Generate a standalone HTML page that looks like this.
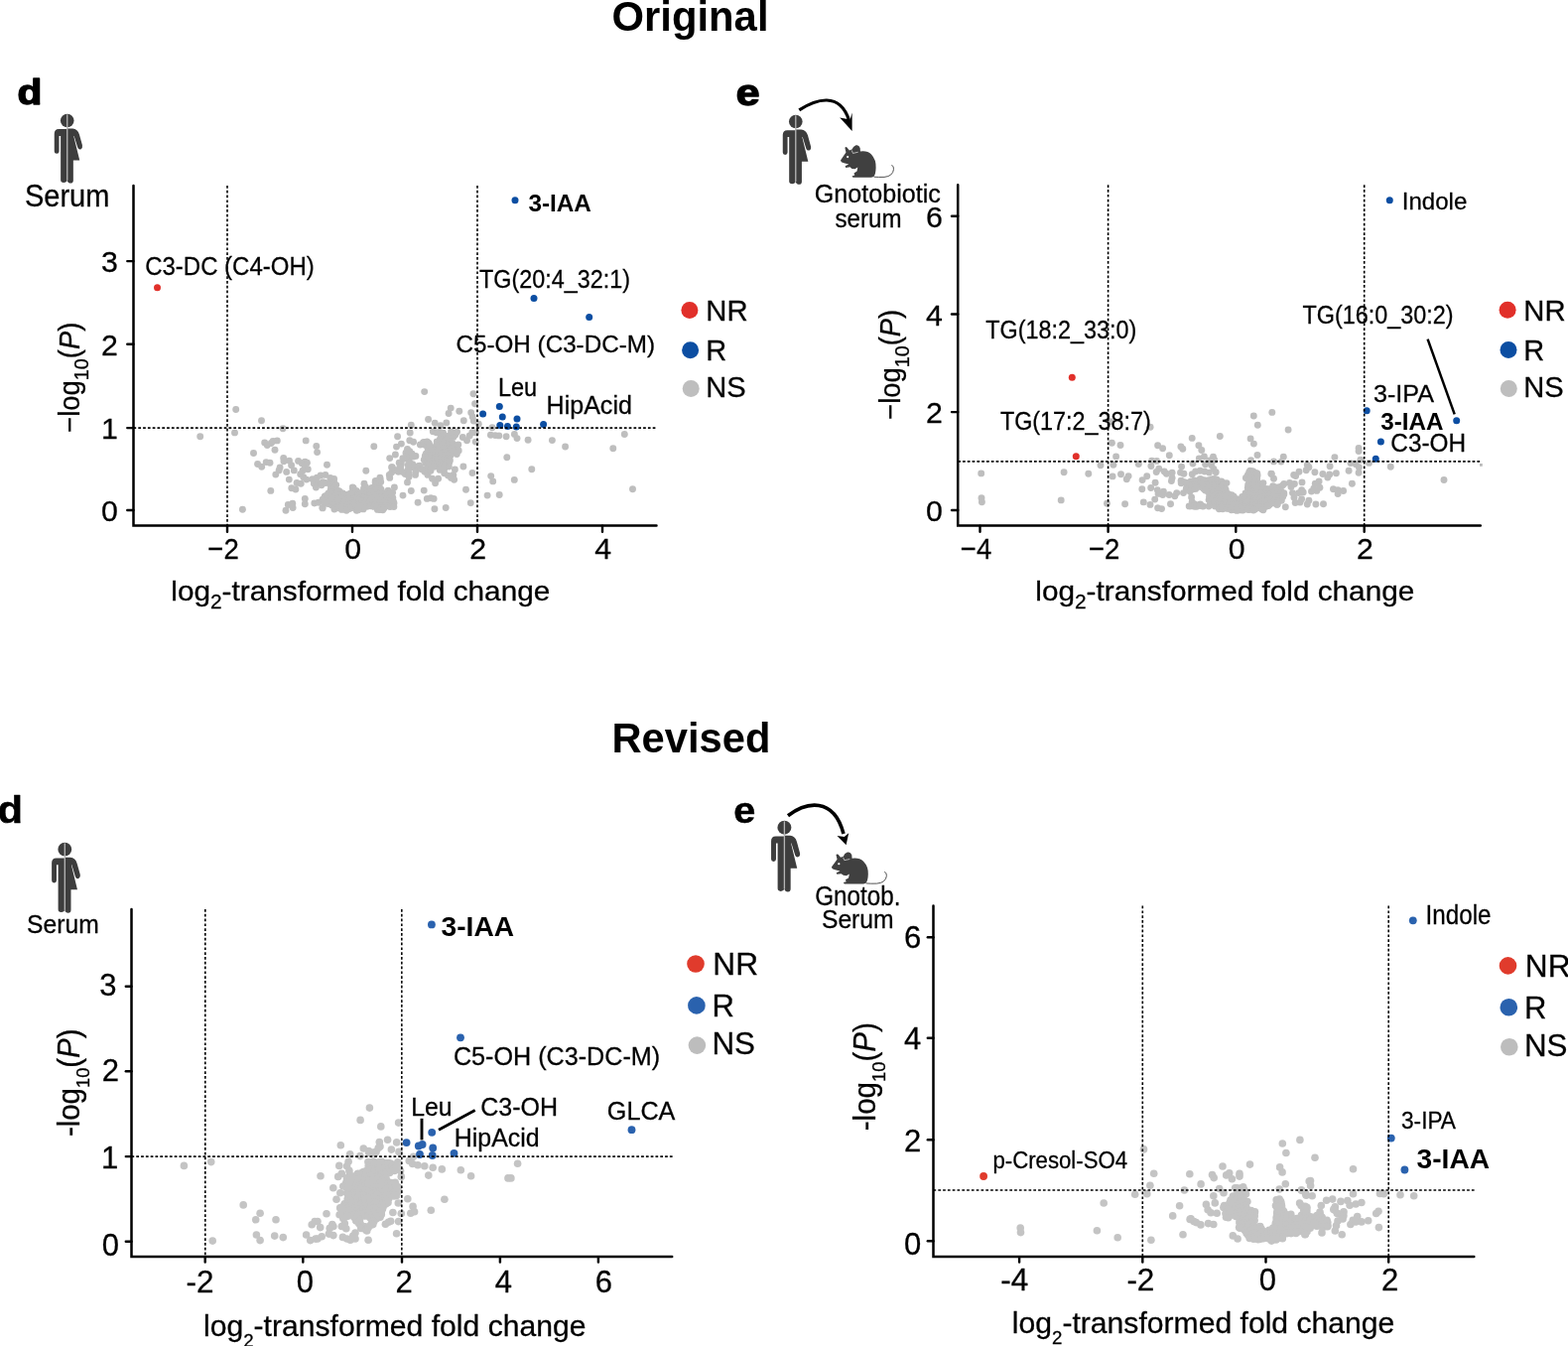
<!DOCTYPE html>
<html lang="en"><head><meta charset="utf-8"><title>Volcano plots: Original vs Revised</title>
<style>
html,body{margin:0;padding:0;background:#fff;}
body{width:1580px;height:1356px;overflow:hidden;}
svg{display:block;font-family:"Liberation Sans", sans-serif;fill:#000;}
.t{stroke:#000;stroke-width:.28px;}
</style></head><body>
<svg width="1580" height="1356" viewBox="0 0 1580 1356">
<rect width="1580" height="1356" fill="#fff"/>
<text x="616.5" y="31" font-size="43" font-weight="bold" textLength="158" lengthAdjust="spacingAndGlyphs">Original</text>
<text x="616.5" y="758" font-size="43" font-weight="bold" textLength="160" lengthAdjust="spacingAndGlyphs">Revised</text>
<text x="17.4" y="105" font-size="35.8" font-weight="bold" textLength="24.8" lengthAdjust="spacingAndGlyphs" stroke="#000" stroke-width="1.4" stroke-linejoin="round">d</text>
<g transform="translate(67.74,114.8) scale(1.0000)" fill="#3d3d3d">
<circle cx="0" cy="6.7" r="6.8"/>
<path d="M0 15.3 H-8.5 Q-13 15.3 -13 20 V37.6 Q-13 40 -10.6 40 Q-8.2 40 -8.2 37.6 V22.1 H-6.6 V66.5 Q-6.6 69.2 -3.6 69.2 Q-0.6 69.2 0 66.5 Z"/>
<path d="M0 14.6 H5.5 Q10.5 14.8 12.2 20.7 L15.2 31.5 Q15.8 34.5 13.6 35.6 Q11.4 36.2 10.5 33.8 L6.9 22.1 H6.5 L12.5 46.8 H6.1 V67 Q6.1 69.8 3.4 69.8 Q0.6 69.8 0 67 Z"/>
<rect x="-0.65" y="0.5" width="1.3" height="66.5" fill="#b4b4b4"/>
</g>
<text x="24.9" y="208.3" font-size="31" textLength="85.5" lengthAdjust="spacingAndGlyphs" class="t">Serum</text>
<g fill="#bebebe"><circle cx="201.7" cy="439.7" r="3.45"/><circle cx="237.7" cy="412.5" r="3.45"/><circle cx="236.5" cy="435.9" r="3.45"/><circle cx="263.5" cy="423.7" r="3.45"/><circle cx="285.1" cy="431.8" r="3.45"/><circle cx="308.2" cy="443.9" r="3.45"/><circle cx="318.8" cy="449.5" r="3.45"/><circle cx="319.6" cy="455.6" r="3.45"/><circle cx="376.8" cy="449.7" r="3.45"/><circle cx="255.5" cy="456.5" r="3.45"/><circle cx="277.0" cy="453.3" r="3.45"/><circle cx="266.7" cy="445.9" r="3.45"/><circle cx="269.3" cy="448.5" r="3.45"/><circle cx="273.2" cy="446.5" r="3.45"/><circle cx="275.1" cy="444.4" r="3.45"/><circle cx="279.3" cy="443.9" r="3.45"/><circle cx="259.6" cy="467.5" r="3.45"/><circle cx="263.7" cy="470.2" r="3.45"/><circle cx="268.2" cy="465.6" r="3.45"/><circle cx="272.0" cy="466.3" r="3.45"/><circle cx="285.7" cy="461.4" r="3.45"/><circle cx="286.0" cy="464.7" r="3.45"/><circle cx="282.1" cy="471.0" r="3.45"/><circle cx="281.1" cy="473.9" r="3.45"/><circle cx="277.8" cy="478.1" r="3.45"/><circle cx="291.5" cy="464.1" r="3.45"/><circle cx="293.6" cy="468.7" r="3.45"/><circle cx="288.7" cy="475.4" r="3.45"/><circle cx="296.3" cy="473.9" r="3.45"/><circle cx="300.6" cy="464.4" r="3.45"/><circle cx="304.2" cy="466.7" r="3.45"/><circle cx="307.3" cy="465.2" r="3.45"/><circle cx="309.4" cy="466.3" r="3.45"/><circle cx="307.3" cy="470.5" r="3.45"/><circle cx="310.3" cy="472.8" r="3.45"/><circle cx="305.0" cy="474.3" r="3.45"/><circle cx="302.7" cy="477.8" r="3.45"/><circle cx="305.8" cy="480.8" r="3.45"/><circle cx="329.5" cy="468.2" r="3.45"/><circle cx="368.8" cy="474.3" r="3.45"/><circle cx="291.3" cy="483.1" r="3.45"/><circle cx="299.1" cy="486.5" r="3.45"/><circle cx="303.2" cy="487.2" r="3.45"/><circle cx="308.9" cy="483.1" r="3.45"/><circle cx="293.8" cy="491.8" r="3.45"/><circle cx="297.9" cy="493.0" r="3.45"/><circle cx="272.8" cy="494.4" r="3.45"/><circle cx="244.4" cy="513.3" r="3.45"/><circle cx="288.0" cy="514.3" r="3.45"/><circle cx="290.3" cy="508.5" r="3.45"/><circle cx="294.8" cy="507.3" r="3.45"/><circle cx="295.1" cy="511.5" r="3.45"/><circle cx="307.3" cy="502.4" r="3.45"/><circle cx="307.3" cy="507.7" r="3.45"/><circle cx="316.8" cy="507.0" r="3.45"/><circle cx="320.9" cy="506.2" r="3.45"/><circle cx="324.9" cy="511.5" r="3.45"/><circle cx="314.9" cy="482.7" r="3.45"/><circle cx="319.4" cy="481.1" r="3.45"/><circle cx="323.1" cy="479.0" r="3.45"/><circle cx="327.9" cy="478.4" r="3.45"/><circle cx="332.8" cy="481.4" r="3.45"/><circle cx="336.6" cy="482.4" r="3.45"/><circle cx="316.4" cy="487.2" r="3.45"/><circle cx="320.9" cy="486.6" r="3.45"/><circle cx="325.5" cy="485.7" r="3.45"/><circle cx="318.4" cy="491.0" r="3.45"/><circle cx="324.0" cy="488.7" r="3.45"/><circle cx="328.2" cy="486.5" r="3.45"/><circle cx="397.4" cy="491.0" r="3.45"/><circle cx="382.9" cy="481.1" r="3.45"/><circle cx="378.4" cy="484.5" r="3.45"/><circle cx="381.4" cy="487.2" r="3.45"/><circle cx="367.0" cy="487.2" r="3.45"/><circle cx="355.3" cy="491.0" r="3.45"/><circle cx="359.4" cy="494.8" r="3.45"/><circle cx="383.1" cy="482.6" r="3.45"/><circle cx="334.8" cy="484.7" r="3.45"/><circle cx="336.3" cy="484.9" r="3.45"/><circle cx="378.2" cy="485.1" r="3.45"/><circle cx="381.6" cy="484.3" r="3.45"/><circle cx="383.7" cy="485.6" r="3.45"/><circle cx="333.4" cy="486.5" r="3.45"/><circle cx="335.7" cy="487.1" r="3.45"/><circle cx="337.0" cy="487.2" r="3.45"/><circle cx="378.2" cy="486.6" r="3.45"/><circle cx="379.7" cy="487.0" r="3.45"/><circle cx="382.0" cy="486.3" r="3.45"/><circle cx="333.0" cy="488.5" r="3.45"/><circle cx="337.3" cy="488.7" r="3.45"/><circle cx="338.7" cy="488.6" r="3.45"/><circle cx="367.6" cy="490.4" r="3.45"/><circle cx="378.6" cy="489.2" r="3.45"/><circle cx="382.4" cy="490.6" r="3.45"/><circle cx="335.4" cy="491.9" r="3.45"/><circle cx="337.7" cy="491.2" r="3.45"/><circle cx="356.2" cy="491.8" r="3.45"/><circle cx="366.5" cy="492.1" r="3.45"/><circle cx="368.6" cy="490.9" r="3.45"/><circle cx="374.7" cy="491.4" r="3.45"/><circle cx="376.8" cy="492.5" r="3.45"/><circle cx="380.0" cy="492.5" r="3.45"/><circle cx="382.1" cy="492.7" r="3.45"/><circle cx="333.2" cy="493.3" r="3.45"/><circle cx="335.6" cy="494.3" r="3.45"/><circle cx="339.8" cy="494.3" r="3.45"/><circle cx="341.7" cy="494.8" r="3.45"/><circle cx="355.5" cy="494.3" r="3.45"/><circle cx="358.6" cy="494.6" r="3.45"/><circle cx="367.2" cy="494.8" r="3.45"/><circle cx="370.1" cy="494.5" r="3.45"/><circle cx="373.0" cy="494.2" r="3.45"/><circle cx="376.1" cy="494.7" r="3.45"/><circle cx="378.0" cy="494.6" r="3.45"/><circle cx="382.3" cy="494.7" r="3.45"/><circle cx="384.1" cy="493.3" r="3.45"/><circle cx="391.1" cy="494.3" r="3.45"/><circle cx="330.7" cy="497.1" r="3.45"/><circle cx="333.0" cy="495.5" r="3.45"/><circle cx="334.2" cy="497.4" r="3.45"/><circle cx="338.6" cy="496.4" r="3.45"/><circle cx="339.7" cy="496.3" r="3.45"/><circle cx="342.6" cy="495.9" r="3.45"/><circle cx="345.3" cy="496.9" r="3.45"/><circle cx="353.0" cy="497.2" r="3.45"/><circle cx="356.6" cy="495.4" r="3.45"/><circle cx="358.7" cy="497.3" r="3.45"/><circle cx="361.2" cy="496.8" r="3.45"/><circle cx="366.0" cy="495.6" r="3.45"/><circle cx="370.3" cy="496.2" r="3.45"/><circle cx="373.0" cy="495.5" r="3.45"/><circle cx="374.5" cy="496.0" r="3.45"/><circle cx="376.9" cy="497.4" r="3.45"/><circle cx="380.2" cy="496.1" r="3.45"/><circle cx="383.3" cy="495.9" r="3.45"/><circle cx="385.7" cy="497.2" r="3.45"/><circle cx="387.4" cy="497.0" r="3.45"/><circle cx="390.5" cy="496.8" r="3.45"/><circle cx="393.2" cy="496.8" r="3.45"/><circle cx="395.6" cy="496.3" r="3.45"/><circle cx="327.8" cy="499.7" r="3.45"/><circle cx="330.6" cy="499.1" r="3.45"/><circle cx="334.8" cy="498.2" r="3.45"/><circle cx="336.5" cy="499.5" r="3.45"/><circle cx="339.7" cy="499.0" r="3.45"/><circle cx="341.9" cy="499.1" r="3.45"/><circle cx="344.7" cy="497.9" r="3.45"/><circle cx="346.2" cy="497.9" r="3.45"/><circle cx="350.7" cy="498.1" r="3.45"/><circle cx="352.3" cy="498.1" r="3.45"/><circle cx="354.8" cy="499.5" r="3.45"/><circle cx="356.9" cy="498.9" r="3.45"/><circle cx="360.4" cy="499.4" r="3.45"/><circle cx="363.1" cy="498.5" r="3.45"/><circle cx="365.3" cy="498.6" r="3.45"/><circle cx="367.8" cy="499.2" r="3.45"/><circle cx="370.0" cy="499.5" r="3.45"/><circle cx="372.8" cy="499.2" r="3.45"/><circle cx="376.8" cy="498.2" r="3.45"/><circle cx="378.9" cy="499.1" r="3.45"/><circle cx="381.8" cy="499.5" r="3.45"/><circle cx="384.3" cy="499.6" r="3.45"/><circle cx="385.9" cy="499.4" r="3.45"/><circle cx="388.4" cy="498.7" r="3.45"/><circle cx="391.7" cy="499.5" r="3.45"/><circle cx="394.5" cy="499.0" r="3.45"/><circle cx="327.1" cy="500.4" r="3.45"/><circle cx="329.9" cy="500.5" r="3.45"/><circle cx="332.7" cy="501.6" r="3.45"/><circle cx="334.8" cy="500.1" r="3.45"/><circle cx="337.3" cy="500.0" r="3.45"/><circle cx="340.4" cy="501.8" r="3.45"/><circle cx="342.8" cy="501.9" r="3.45"/><circle cx="346.2" cy="499.9" r="3.45"/><circle cx="347.8" cy="500.7" r="3.45"/><circle cx="351.4" cy="501.9" r="3.45"/><circle cx="352.7" cy="501.5" r="3.45"/><circle cx="356.4" cy="500.3" r="3.45"/><circle cx="359.7" cy="500.9" r="3.45"/><circle cx="360.7" cy="501.1" r="3.45"/><circle cx="364.1" cy="501.5" r="3.45"/><circle cx="366.1" cy="501.2" r="3.45"/><circle cx="369.0" cy="501.9" r="3.45"/><circle cx="373.0" cy="501.8" r="3.45"/><circle cx="375.0" cy="501.5" r="3.45"/><circle cx="378.4" cy="501.2" r="3.45"/><circle cx="379.4" cy="501.5" r="3.45"/><circle cx="383.7" cy="500.6" r="3.45"/><circle cx="385.2" cy="500.7" r="3.45"/><circle cx="387.7" cy="501.0" r="3.45"/><circle cx="390.0" cy="501.7" r="3.45"/><circle cx="392.9" cy="501.8" r="3.45"/><circle cx="395.8" cy="501.5" r="3.45"/><circle cx="325.1" cy="503.1" r="3.45"/><circle cx="329.6" cy="502.7" r="3.45"/><circle cx="330.8" cy="503.2" r="3.45"/><circle cx="333.6" cy="503.4" r="3.45"/><circle cx="336.9" cy="502.9" r="3.45"/><circle cx="339.0" cy="504.3" r="3.45"/><circle cx="341.5" cy="502.8" r="3.45"/><circle cx="345.5" cy="504.2" r="3.45"/><circle cx="347.9" cy="503.2" r="3.45"/><circle cx="350.2" cy="503.8" r="3.45"/><circle cx="352.8" cy="503.7" r="3.45"/><circle cx="354.9" cy="503.1" r="3.45"/><circle cx="358.3" cy="503.6" r="3.45"/><circle cx="359.8" cy="503.8" r="3.45"/><circle cx="363.0" cy="504.0" r="3.45"/><circle cx="366.4" cy="503.8" r="3.45"/><circle cx="367.7" cy="503.5" r="3.45"/><circle cx="370.5" cy="503.1" r="3.45"/><circle cx="373.6" cy="503.0" r="3.45"/><circle cx="375.1" cy="503.0" r="3.45"/><circle cx="377.7" cy="503.4" r="3.45"/><circle cx="380.9" cy="502.5" r="3.45"/><circle cx="383.0" cy="504.0" r="3.45"/><circle cx="385.8" cy="502.5" r="3.45"/><circle cx="390.2" cy="502.6" r="3.45"/><circle cx="392.7" cy="504.1" r="3.45"/><circle cx="395.3" cy="502.4" r="3.45"/><circle cx="327.0" cy="505.8" r="3.45"/><circle cx="330.9" cy="505.5" r="3.45"/><circle cx="333.2" cy="505.8" r="3.45"/><circle cx="335.9" cy="505.4" r="3.45"/><circle cx="337.5" cy="504.7" r="3.45"/><circle cx="341.4" cy="505.5" r="3.45"/><circle cx="342.3" cy="506.2" r="3.45"/><circle cx="344.9" cy="506.2" r="3.45"/><circle cx="349.1" cy="506.0" r="3.45"/><circle cx="352.1" cy="505.0" r="3.45"/><circle cx="354.0" cy="505.0" r="3.45"/><circle cx="357.3" cy="505.1" r="3.45"/><circle cx="359.7" cy="505.2" r="3.45"/><circle cx="361.2" cy="505.1" r="3.45"/><circle cx="365.0" cy="504.9" r="3.45"/><circle cx="367.0" cy="506.2" r="3.45"/><circle cx="369.4" cy="504.6" r="3.45"/><circle cx="371.5" cy="505.9" r="3.45"/><circle cx="374.0" cy="504.6" r="3.45"/><circle cx="378.3" cy="505.1" r="3.45"/><circle cx="380.3" cy="506.5" r="3.45"/><circle cx="382.0" cy="505.8" r="3.45"/><circle cx="385.4" cy="505.2" r="3.45"/><circle cx="387.2" cy="505.9" r="3.45"/><circle cx="391.5" cy="505.2" r="3.45"/><circle cx="393.3" cy="505.3" r="3.45"/><circle cx="396.3" cy="504.9" r="3.45"/><circle cx="327.6" cy="507.1" r="3.45"/><circle cx="330.7" cy="507.5" r="3.45"/><circle cx="334.9" cy="507.0" r="3.45"/><circle cx="337.5" cy="507.1" r="3.45"/><circle cx="338.1" cy="508.8" r="3.45"/><circle cx="341.9" cy="508.0" r="3.45"/><circle cx="344.8" cy="508.2" r="3.45"/><circle cx="347.0" cy="507.3" r="3.45"/><circle cx="350.7" cy="507.5" r="3.45"/><circle cx="351.4" cy="507.6" r="3.45"/><circle cx="355.1" cy="508.0" r="3.45"/><circle cx="357.1" cy="507.3" r="3.45"/><circle cx="359.5" cy="508.6" r="3.45"/><circle cx="363.4" cy="508.0" r="3.45"/><circle cx="366.5" cy="508.2" r="3.45"/><circle cx="367.2" cy="507.5" r="3.45"/><circle cx="371.8" cy="507.0" r="3.45"/><circle cx="373.3" cy="508.5" r="3.45"/><circle cx="375.2" cy="508.7" r="3.45"/><circle cx="379.3" cy="506.8" r="3.45"/><circle cx="382.2" cy="508.0" r="3.45"/><circle cx="384.8" cy="507.5" r="3.45"/><circle cx="386.8" cy="508.1" r="3.45"/><circle cx="389.3" cy="507.7" r="3.45"/><circle cx="393.0" cy="508.2" r="3.45"/><circle cx="395.0" cy="506.8" r="3.45"/><circle cx="397.0" cy="507.0" r="3.45"/><circle cx="334.3" cy="509.1" r="3.45"/><circle cx="336.9" cy="509.4" r="3.45"/><circle cx="340.2" cy="511.0" r="3.45"/><circle cx="343.8" cy="510.3" r="3.45"/><circle cx="345.4" cy="509.9" r="3.45"/><circle cx="348.4" cy="509.9" r="3.45"/><circle cx="350.5" cy="509.2" r="3.45"/><circle cx="353.3" cy="509.7" r="3.45"/><circle cx="356.0" cy="509.2" r="3.45"/><circle cx="359.1" cy="509.7" r="3.45"/><circle cx="361.9" cy="509.6" r="3.45"/><circle cx="365.2" cy="510.1" r="3.45"/><circle cx="367.8" cy="509.4" r="3.45"/><circle cx="369.9" cy="510.3" r="3.45"/><circle cx="373.0" cy="509.5" r="3.45"/><circle cx="374.1" cy="509.9" r="3.45"/><circle cx="376.9" cy="510.4" r="3.45"/><circle cx="380.1" cy="510.3" r="3.45"/><circle cx="381.9" cy="510.1" r="3.45"/><circle cx="385.7" cy="510.3" r="3.45"/><circle cx="387.2" cy="510.7" r="3.45"/><circle cx="391.5" cy="509.8" r="3.45"/><circle cx="393.1" cy="510.5" r="3.45"/><circle cx="396.9" cy="510.5" r="3.45"/><circle cx="336.9" cy="513.1" r="3.45"/><circle cx="338.1" cy="511.9" r="3.45"/><circle cx="341.3" cy="511.8" r="3.45"/><circle cx="344.4" cy="513.4" r="3.45"/><circle cx="347.6" cy="513.0" r="3.45"/><circle cx="349.8" cy="512.7" r="3.45"/><circle cx="352.2" cy="512.5" r="3.45"/><circle cx="354.7" cy="511.5" r="3.45"/><circle cx="358.4" cy="511.5" r="3.45"/><circle cx="360.7" cy="512.4" r="3.45"/><circle cx="363.9" cy="511.5" r="3.45"/><circle cx="366.1" cy="512.9" r="3.45"/><circle cx="380.4" cy="513.4" r="3.45"/><circle cx="383.7" cy="511.8" r="3.45"/><circle cx="387.0" cy="511.9" r="3.45"/><circle cx="349.1" cy="514.3" r="3.45"/><circle cx="359.3" cy="514.3" r="3.45"/><circle cx="361.0" cy="513.7" r="3.45"/><circle cx="382.9" cy="513.6" r="3.45"/><circle cx="385.7" cy="513.8" r="3.45"/><circle cx="325.1" cy="511.9" r="3.45"/><circle cx="427.7" cy="394.6" r="3.45"/><circle cx="477.0" cy="396.8" r="3.45"/><circle cx="478.6" cy="406.7" r="3.45"/><circle cx="469.5" cy="493.3" r="3.45"/><circle cx="474.3" cy="506.7" r="3.45"/><circle cx="449.2" cy="511.5" r="3.45"/><circle cx="437.9" cy="512.7" r="3.45"/><circle cx="421.1" cy="506.2" r="3.45"/><circle cx="414.3" cy="494.5" r="3.45"/><circle cx="427.2" cy="494.1" r="3.45"/><circle cx="406.0" cy="499.1" r="3.45"/><circle cx="430.3" cy="502.4" r="3.45"/><circle cx="434.1" cy="501.7" r="3.45"/><circle cx="437.1" cy="502.4" r="3.45"/><circle cx="454.2" cy="411.1" r="3.45"/><circle cx="452.1" cy="416.5" r="3.45"/><circle cx="462.8" cy="414.2" r="3.45"/><circle cx="474.7" cy="415.7" r="3.45"/><circle cx="476.2" cy="419.9" r="3.45"/><circle cx="477.3" cy="424.1" r="3.45"/><circle cx="431.6" cy="422.5" r="3.45"/><circle cx="467.3" cy="423.7" r="3.45"/><circle cx="438.2" cy="426.3" r="3.45"/><circle cx="443.9" cy="428.6" r="3.45"/><circle cx="449.8" cy="425.9" r="3.45"/><circle cx="414.3" cy="428.2" r="3.45"/><circle cx="413.2" cy="436.0" r="3.45"/><circle cx="400.6" cy="439.8" r="3.45"/><circle cx="404.4" cy="447.1" r="3.45"/><circle cx="399.5" cy="450.1" r="3.45"/><circle cx="412.8" cy="443.8" r="3.45"/><circle cx="416.6" cy="445.3" r="3.45"/><circle cx="398.4" cy="458.0" r="3.45"/><circle cx="392.7" cy="461.6" r="3.45"/><circle cx="466.3" cy="440.5" r="3.45"/><circle cx="470.5" cy="443.8" r="3.45"/><circle cx="473.2" cy="438.9" r="3.45"/><circle cx="475.8" cy="435.8" r="3.45"/><circle cx="479.6" cy="435.8" r="3.45"/><circle cx="479.2" cy="445.1" r="3.45"/><circle cx="466.9" cy="470.0" r="3.45"/><circle cx="476.0" cy="476.5" r="3.45"/><circle cx="458.4" cy="473.0" r="3.45"/><circle cx="442.9" cy="436.0" r="3.45"/><circle cx="456.6" cy="437.2" r="3.45"/><circle cx="459.2" cy="436.8" r="3.45"/><circle cx="444.8" cy="438.1" r="3.45"/><circle cx="447.9" cy="438.8" r="3.45"/><circle cx="451.2" cy="439.8" r="3.45"/><circle cx="453.7" cy="438.4" r="3.45"/><circle cx="456.4" cy="439.0" r="3.45"/><circle cx="458.6" cy="438.3" r="3.45"/><circle cx="443.9" cy="441.0" r="3.45"/><circle cx="447.2" cy="441.1" r="3.45"/><circle cx="449.8" cy="441.8" r="3.45"/><circle cx="451.4" cy="440.4" r="3.45"/><circle cx="454.7" cy="440.4" r="3.45"/><circle cx="456.8" cy="440.4" r="3.45"/><circle cx="443.1" cy="443.4" r="3.45"/><circle cx="444.8" cy="443.1" r="3.45"/><circle cx="446.7" cy="444.4" r="3.45"/><circle cx="449.8" cy="442.9" r="3.45"/><circle cx="454.0" cy="444.5" r="3.45"/><circle cx="427.6" cy="445.4" r="3.45"/><circle cx="430.6" cy="446.0" r="3.45"/><circle cx="432.1" cy="446.5" r="3.45"/><circle cx="440.2" cy="445.0" r="3.45"/><circle cx="443.2" cy="445.0" r="3.45"/><circle cx="445.5" cy="446.2" r="3.45"/><circle cx="449.1" cy="446.7" r="3.45"/><circle cx="452.3" cy="445.2" r="3.45"/><circle cx="454.3" cy="446.7" r="3.45"/><circle cx="456.0" cy="446.7" r="3.45"/><circle cx="427.5" cy="447.9" r="3.45"/><circle cx="430.2" cy="448.2" r="3.45"/><circle cx="440.1" cy="447.4" r="3.45"/><circle cx="443.1" cy="448.4" r="3.45"/><circle cx="444.5" cy="448.3" r="3.45"/><circle cx="447.2" cy="447.4" r="3.45"/><circle cx="451.3" cy="448.0" r="3.45"/><circle cx="452.4" cy="448.6" r="3.45"/><circle cx="455.3" cy="448.9" r="3.45"/><circle cx="458.1" cy="448.9" r="3.45"/><circle cx="430.6" cy="450.5" r="3.45"/><circle cx="433.3" cy="450.3" r="3.45"/><circle cx="439.2" cy="449.7" r="3.45"/><circle cx="440.7" cy="449.3" r="3.45"/><circle cx="443.1" cy="450.7" r="3.45"/><circle cx="445.7" cy="450.4" r="3.45"/><circle cx="448.3" cy="450.7" r="3.45"/><circle cx="452.2" cy="449.5" r="3.45"/><circle cx="454.1" cy="450.0" r="3.45"/><circle cx="456.0" cy="449.3" r="3.45"/><circle cx="459.7" cy="451.4" r="3.45"/><circle cx="432.5" cy="452.2" r="3.45"/><circle cx="434.7" cy="453.0" r="3.45"/><circle cx="436.5" cy="452.0" r="3.45"/><circle cx="439.1" cy="452.5" r="3.45"/><circle cx="441.7" cy="453.0" r="3.45"/><circle cx="445.7" cy="453.4" r="3.45"/><circle cx="446.9" cy="452.1" r="3.45"/><circle cx="449.5" cy="452.7" r="3.45"/><circle cx="453.0" cy="451.9" r="3.45"/><circle cx="455.2" cy="452.6" r="3.45"/><circle cx="458.9" cy="452.5" r="3.45"/><circle cx="460.3" cy="452.1" r="3.45"/><circle cx="430.9" cy="455.1" r="3.45"/><circle cx="432.5" cy="455.4" r="3.45"/><circle cx="434.9" cy="454.0" r="3.45"/><circle cx="438.5" cy="455.9" r="3.45"/><circle cx="441.8" cy="453.9" r="3.45"/><circle cx="444.3" cy="455.6" r="3.45"/><circle cx="447.1" cy="455.4" r="3.45"/><circle cx="448.9" cy="454.8" r="3.45"/><circle cx="451.2" cy="455.7" r="3.45"/><circle cx="454.0" cy="455.1" r="3.45"/><circle cx="457.4" cy="455.2" r="3.45"/><circle cx="429.2" cy="457.1" r="3.45"/><circle cx="432.0" cy="457.0" r="3.45"/><circle cx="434.3" cy="456.4" r="3.45"/><circle cx="436.3" cy="456.5" r="3.45"/><circle cx="438.8" cy="457.6" r="3.45"/><circle cx="441.8" cy="457.7" r="3.45"/><circle cx="445.1" cy="457.9" r="3.45"/><circle cx="448.7" cy="456.2" r="3.45"/><circle cx="450.3" cy="457.3" r="3.45"/><circle cx="452.5" cy="457.3" r="3.45"/><circle cx="454.8" cy="456.8" r="3.45"/><circle cx="428.3" cy="459.5" r="3.45"/><circle cx="430.7" cy="460.5" r="3.45"/><circle cx="432.7" cy="459.1" r="3.45"/><circle cx="435.5" cy="458.7" r="3.45"/><circle cx="439.5" cy="460.4" r="3.45"/><circle cx="440.7" cy="460.0" r="3.45"/><circle cx="443.7" cy="458.8" r="3.45"/><circle cx="446.1" cy="459.9" r="3.45"/><circle cx="448.8" cy="459.6" r="3.45"/><circle cx="452.7" cy="459.5" r="3.45"/><circle cx="454.1" cy="458.7" r="3.45"/><circle cx="429.1" cy="461.2" r="3.45"/><circle cx="431.5" cy="461.1" r="3.45"/><circle cx="433.7" cy="461.6" r="3.45"/><circle cx="437.7" cy="461.8" r="3.45"/><circle cx="440.5" cy="461.1" r="3.45"/><circle cx="441.5" cy="462.7" r="3.45"/><circle cx="445.7" cy="461.2" r="3.45"/><circle cx="447.9" cy="461.8" r="3.45"/><circle cx="451.2" cy="461.9" r="3.45"/><circle cx="452.1" cy="461.9" r="3.45"/><circle cx="427.3" cy="463.2" r="3.45"/><circle cx="430.2" cy="463.2" r="3.45"/><circle cx="432.6" cy="464.7" r="3.45"/><circle cx="435.5" cy="464.5" r="3.45"/><circle cx="437.7" cy="464.0" r="3.45"/><circle cx="440.1" cy="463.1" r="3.45"/><circle cx="444.2" cy="465.0" r="3.45"/><circle cx="445.9" cy="463.9" r="3.45"/><circle cx="450.1" cy="463.8" r="3.45"/><circle cx="450.9" cy="463.1" r="3.45"/><circle cx="453.4" cy="463.7" r="3.45"/><circle cx="428.8" cy="466.6" r="3.45"/><circle cx="431.2" cy="465.6" r="3.45"/><circle cx="434.5" cy="466.7" r="3.45"/><circle cx="438.2" cy="466.3" r="3.45"/><circle cx="439.7" cy="465.8" r="3.45"/><circle cx="442.0" cy="466.7" r="3.45"/><circle cx="445.6" cy="465.9" r="3.45"/><circle cx="448.3" cy="466.3" r="3.45"/><circle cx="450.9" cy="465.3" r="3.45"/><circle cx="452.8" cy="465.8" r="3.45"/><circle cx="431.1" cy="468.2" r="3.45"/><circle cx="432.4" cy="469.5" r="3.45"/><circle cx="436.6" cy="468.0" r="3.45"/><circle cx="437.7" cy="469.1" r="3.45"/><circle cx="440.1" cy="468.1" r="3.45"/><circle cx="444.7" cy="468.5" r="3.45"/><circle cx="446.3" cy="468.1" r="3.45"/><circle cx="448.1" cy="469.1" r="3.45"/><circle cx="437.7" cy="470.3" r="3.45"/><circle cx="442.9" cy="471.2" r="3.45"/><circle cx="444.3" cy="470.7" r="3.45"/><circle cx="410.5" cy="452.5" r="3.45"/><circle cx="412.8" cy="454.8" r="3.45"/><circle cx="409.0" cy="456.3" r="3.45"/><circle cx="415.1" cy="457.1" r="3.45"/><circle cx="418.9" cy="459.4" r="3.45"/><circle cx="405.9" cy="461.6" r="3.45"/><circle cx="412.0" cy="463.2" r="3.45"/><circle cx="402.2" cy="466.2" r="3.45"/><circle cx="411.3" cy="468.5" r="3.45"/><circle cx="415.8" cy="467.7" r="3.45"/><circle cx="420.4" cy="470.0" r="3.45"/><circle cx="395.3" cy="470.8" r="3.45"/><circle cx="403.7" cy="471.5" r="3.45"/><circle cx="401.4" cy="475.3" r="3.45"/><circle cx="394.6" cy="476.1" r="3.45"/><circle cx="408.2" cy="477.6" r="3.45"/><circle cx="412.0" cy="476.8" r="3.45"/><circle cx="418.5" cy="478.4" r="3.45"/><circle cx="410.5" cy="485.9" r="3.45"/><circle cx="392.7" cy="481.4" r="3.45"/><circle cx="424.2" cy="472.3" r="3.45"/><circle cx="428.0" cy="475.3" r="3.45"/><circle cx="431.0" cy="478.4" r="3.45"/><circle cx="435.6" cy="482.2" r="3.45"/><circle cx="441.6" cy="482.2" r="3.45"/><circle cx="438.6" cy="486.7" r="3.45"/><circle cx="447.7" cy="476.8" r="3.45"/><circle cx="451.5" cy="479.1" r="3.45"/><circle cx="456.8" cy="478.4" r="3.45"/><circle cx="457.6" cy="483.3" r="3.45"/><circle cx="454.6" cy="481.4" r="3.45"/><circle cx="436.3" cy="434.7" r="3.45"/><circle cx="439.7" cy="435.8" r="3.45"/><circle cx="443.2" cy="435.4" r="3.45"/><circle cx="446.6" cy="436.2" r="3.45"/><circle cx="454.6" cy="434.7" r="3.45"/><circle cx="460.6" cy="435.1" r="3.45"/><circle cx="423.4" cy="448.0" r="3.45"/><circle cx="426.5" cy="445.7" r="3.45"/><circle cx="430.3" cy="444.9" r="3.45"/><circle cx="432.5" cy="448.0" r="3.45"/><circle cx="461.8" cy="448.0" r="3.45"/><circle cx="462.2" cy="454.0" r="3.45"/><circle cx="460.3" cy="457.5" r="3.45"/><circle cx="429.5" cy="473.0" r="3.45"/><circle cx="434.0" cy="474.2" r="3.45"/><circle cx="443.2" cy="473.4" r="3.45"/><circle cx="447.7" cy="472.3" r="3.45"/><circle cx="452.3" cy="470.0" r="3.45"/><circle cx="412.0" cy="458.6" r="3.45"/><circle cx="416.6" cy="460.1" r="3.45"/><circle cx="409.7" cy="460.1" r="3.45"/><circle cx="406.7" cy="462.4" r="3.45"/><circle cx="404.4" cy="467.7" r="3.45"/><circle cx="402.9" cy="470.8" r="3.45"/><circle cx="405.2" cy="475.3" r="3.45"/><circle cx="398.4" cy="473.8" r="3.45"/><circle cx="394.6" cy="470.8" r="3.45"/><circle cx="392.3" cy="478.4" r="3.45"/><circle cx="412.8" cy="466.2" r="3.45"/><circle cx="415.1" cy="470.8" r="3.45"/><circle cx="411.3" cy="473.0" r="3.45"/><circle cx="412.0" cy="480.6" r="3.45"/><circle cx="418.9" cy="475.3" r="3.45"/><circle cx="422.7" cy="469.2" r="3.45"/><circle cx="425.7" cy="473.0" r="3.45"/><circle cx="494.4" cy="438.3" r="3.45"/><circle cx="499.0" cy="438.6" r="3.45"/><circle cx="502.8" cy="438.9" r="3.45"/><circle cx="510.1" cy="439.8" r="3.45"/><circle cx="518.4" cy="437.4" r="3.45"/><circle cx="521.0" cy="441.6" r="3.45"/><circle cx="532.1" cy="443.2" r="3.45"/><circle cx="556.4" cy="443.6" r="3.45"/><circle cx="569.6" cy="450.0" r="3.45"/><circle cx="629.3" cy="437.5" r="3.45"/><circle cx="617.8" cy="451.7" r="3.45"/><circle cx="510.8" cy="460.8" r="3.45"/><circle cx="535.8" cy="472.8" r="3.45"/><circle cx="494.7" cy="479.6" r="3.45"/><circle cx="496.7" cy="484.9" r="3.45"/><circle cx="518.3" cy="483.4" r="3.45"/><circle cx="491.1" cy="499.1" r="3.45"/><circle cx="503.2" cy="498.5" r="3.45"/><circle cx="637.5" cy="492.7" r="3.45"/><circle cx="496.0" cy="430.7" r="3.45"/><circle cx="482.3" cy="427.2" r="3.45"/></g>
<g fill="#e1302a"><circle cx="158.5" cy="289.7" r="3.5"/></g>
<g fill="#0c4ea2"><circle cx="519.0" cy="201.8" r="3.5"/><circle cx="538.0" cy="300.5" r="3.5"/><circle cx="593.7" cy="319.5" r="3.5"/><circle cx="486.6" cy="417.0" r="3.5"/><circle cx="503.3" cy="409.4" r="3.5"/><circle cx="506.3" cy="420.0" r="3.5"/><circle cx="521.0" cy="422.0" r="3.5"/><circle cx="503.8" cy="428.4" r="3.5"/><circle cx="511.4" cy="429.6" r="3.5"/><circle cx="520.3" cy="430.1" r="3.5"/><circle cx="547.6" cy="427.6" r="3.5"/></g>
<line x1="229" y1="187" x2="229" y2="529.6" stroke="#000" stroke-width="1.6" stroke-dasharray="2.7 2.1"/>
<line x1="481" y1="187" x2="481" y2="529.6" stroke="#000" stroke-width="1.6" stroke-dasharray="2.7 2.1"/>
<line x1="134.5" y1="431.1" x2="662.5" y2="431.1" stroke="#000" stroke-width="1.6" stroke-dasharray="2.7 2.1"/>
<path d="M134.5 187 V529.6 H661.5" fill="none" stroke="#000" stroke-width="2.5" stroke-linejoin="miter" stroke-linecap="round"/>
<line x1="229" y1="529.6" x2="229" y2="535.8000000000001" stroke="#000" stroke-width="2.4" stroke-linecap="round"/>
<text x="225.0" y="563.2" font-size="30.3" text-anchor="middle" textLength="31.4" lengthAdjust="spacingAndGlyphs" class="t">−2</text>
<line x1="355" y1="529.6" x2="355" y2="535.8000000000001" stroke="#000" stroke-width="2.4" stroke-linecap="round"/>
<text x="355.8" y="563.2" font-size="30.3" text-anchor="middle" class="t">0</text>
<line x1="481" y1="529.6" x2="481" y2="535.8000000000001" stroke="#000" stroke-width="2.4" stroke-linecap="round"/>
<text x="481.8" y="563.2" font-size="30.3" text-anchor="middle" class="t">2</text>
<line x1="607" y1="529.6" x2="607" y2="535.8000000000001" stroke="#000" stroke-width="2.4" stroke-linecap="round"/>
<text x="607.8" y="563.2" font-size="30.3" text-anchor="middle" class="t">4</text>
<line x1="128.3" y1="514" x2="134.5" y2="514" stroke="#000" stroke-width="2.4" stroke-linecap="round"/>
<text x="118.8" y="525.2" font-size="30.3" text-anchor="end" class="t">0</text>
<line x1="128.3" y1="431.1" x2="134.5" y2="431.1" stroke="#000" stroke-width="2.4" stroke-linecap="round"/>
<text x="118.8" y="442.3" font-size="30.3" text-anchor="end" class="t">1</text>
<line x1="128.3" y1="346.8" x2="134.5" y2="346.8" stroke="#000" stroke-width="2.4" stroke-linecap="round"/>
<text x="118.8" y="358.0" font-size="30.3" text-anchor="end" class="t">2</text>
<line x1="128.3" y1="263.1" x2="134.5" y2="263.1" stroke="#000" stroke-width="2.4" stroke-linecap="round"/>
<text x="118.8" y="274.3" font-size="30.3" text-anchor="end" class="t">3</text>
<text x="146.2" y="276.6" font-size="25.5" textLength="170.5" lengthAdjust="spacingAndGlyphs" class="t">C3-DC (C4-OH)</text>
<text x="532.4" y="212.7" font-size="24" font-weight="bold" textLength="63.5" lengthAdjust="spacingAndGlyphs">3-IAA</text>
<text x="483.1" y="290.1" font-size="25" textLength="152" lengthAdjust="spacingAndGlyphs" class="t">TG(20:4_32:1)</text>
<text x="459.5" y="355" font-size="24.5" textLength="200.5" lengthAdjust="spacingAndGlyphs" class="t">C5-OH (C3-DC-M)</text>
<text x="501.9" y="398.9" font-size="25.2" textLength="39.3" lengthAdjust="spacingAndGlyphs" class="t">Leu</text>
<text x="550.6" y="416.7" font-size="25.2" textLength="86.3" lengthAdjust="spacingAndGlyphs" class="t">HipAcid</text>
<circle cx="694.9" cy="312.6" r="8.5" fill="#e1302a"/>
<text x="711.3" y="322.9" font-size="29" textLength="42.3" lengthAdjust="spacingAndGlyphs" class="t">NR</text>
<circle cx="695.6" cy="352.8" r="8.5" fill="#0c4ea2"/>
<text x="711.3" y="362.7" font-size="29" class="t">R</text>
<circle cx="696.2" cy="391.4" r="8.5" fill="#bebebe"/>
<text x="711.3" y="400.1" font-size="29" textLength="40.5" lengthAdjust="spacingAndGlyphs" class="t">NS</text>
<text class="t" x="172.3" y="605.4" font-size="28" textLength="382" lengthAdjust="spacingAndGlyphs">log<tspan font-size="19.6" dy="7.6">2</tspan><tspan dy="-7.6">-transformed fold change</tspan></text>
<text class="t" transform="translate(79.5,380.2) rotate(-90)" font-size="29" text-anchor="middle" textLength="111" lengthAdjust="spacingAndGlyphs">−log<tspan font-size="20.9" dy="9.6">10</tspan><tspan dy="-9.6">(</tspan><tspan font-style="italic">P</tspan>)</text>
<text x="741.7" y="105.7" font-size="36.6" font-weight="bold" textLength="23.8" lengthAdjust="spacingAndGlyphs" stroke="#000" stroke-width="1.4" stroke-linejoin="round">e</text>
<g transform="translate(801.8,115.8) scale(1.0029)" fill="#3d3d3d">
<circle cx="0" cy="6.7" r="6.8"/>
<path d="M0 15.3 H-8.5 Q-13 15.3 -13 20 V37.6 Q-13 40 -10.6 40 Q-8.2 40 -8.2 37.6 V22.1 H-6.6 V66.5 Q-6.6 69.2 -3.6 69.2 Q-0.6 69.2 0 66.5 Z"/>
<path d="M0 14.6 H5.5 Q10.5 14.8 12.2 20.7 L15.2 31.5 Q15.8 34.5 13.6 35.6 Q11.4 36.2 10.5 33.8 L6.9 22.1 H6.5 L12.5 46.8 H6.1 V67 Q6.1 69.8 3.4 69.8 Q0.6 69.8 0 67 Z"/>
<rect x="-0.65" y="0.5" width="1.3" height="66.5" fill="#b4b4b4"/>
</g>
<path d="M805.3 110.9 C822 100 846 92 855.5 121" fill="none" stroke="#000" stroke-width="3.2"/>
<path d="M846.2 118.5 L856.6 120.6 L858.6 113.6 L858.6 132 Z" fill="#000"/>
<g transform="translate(846.8,145.8) scale(1.0056,1.0056)">
<path fill="#404040" d="M0.2 15.5 L5.6 7.6 L4.6 3.2 Q5 1.6 6.6 2.6 L9 5.6 L11.6 4.6 Q12.6 1.6 15.6 0.4 Q18.6 0 19.8 3.4 L20 6.6 Q27 5.6 31 9.6 Q36 15 35.6 23 Q35.4 29.6 33.4 32 L31 32.8 H12.6 L11.6 31.4 L14.4 30.6 L13.6 28.6 L16.6 26.6 L17.4 22.6 L14.6 24.4 L11.6 24 L9.6 22.4 L5.4 23 L4.8 21.4 L8.4 19.6 L3.6 18.4 L1 17.4 Z"/>
<circle cx="7.3" cy="12.2" r="1.1" fill="#fff"/>
<path d="M11.4 5.6 L12.6 8.6 L17.8 7.4" fill="none" stroke="#fff" stroke-width="0.6"/>
<path d="M33.6 32.2 Q38 32.6 44 32.4 Q52.6 31.6 53.4 24.6 Q53.6 21.6 51.4 20.2" fill="none" stroke="#404040" stroke-width="0.9"/>
</g>
<text x="820.8" y="203.9" font-size="26.3" textLength="127" lengthAdjust="spacingAndGlyphs" class="t">Gnotobiotic</text>
<text x="841.5" y="229.1" font-size="25.5" textLength="67" lengthAdjust="spacingAndGlyphs" class="t">serum</text>
<g fill="#bebebe"><circle cx="1259.7" cy="474.1" r="3.45"/><circle cx="1262.3" cy="474.7" r="3.45"/><circle cx="1258.7" cy="475.6" r="3.45"/><circle cx="1261.6" cy="476.4" r="3.45"/><circle cx="1263.2" cy="475.5" r="3.45"/><circle cx="1265.9" cy="476.7" r="3.45"/><circle cx="1257.3" cy="478.6" r="3.45"/><circle cx="1259.2" cy="479.6" r="3.45"/><circle cx="1263.0" cy="479.2" r="3.45"/><circle cx="1265.0" cy="479.5" r="3.45"/><circle cx="1267.1" cy="478.9" r="3.45"/><circle cx="1255.4" cy="481.5" r="3.45"/><circle cx="1258.3" cy="481.7" r="3.45"/><circle cx="1260.9" cy="480.0" r="3.45"/><circle cx="1264.3" cy="481.8" r="3.45"/><circle cx="1265.2" cy="481.6" r="3.45"/><circle cx="1203.6" cy="483.9" r="3.45"/><circle cx="1209.2" cy="482.7" r="3.45"/><circle cx="1209.9" cy="482.7" r="3.45"/><circle cx="1213.5" cy="483.7" r="3.45"/><circle cx="1217.8" cy="483.8" r="3.45"/><circle cx="1221.3" cy="482.8" r="3.45"/><circle cx="1224.0" cy="482.4" r="3.45"/><circle cx="1226.1" cy="483.3" r="3.45"/><circle cx="1256.9" cy="482.3" r="3.45"/><circle cx="1259.8" cy="482.8" r="3.45"/><circle cx="1262.8" cy="483.5" r="3.45"/><circle cx="1264.7" cy="483.1" r="3.45"/><circle cx="1266.7" cy="482.1" r="3.45"/><circle cx="1190.1" cy="484.3" r="3.45"/><circle cx="1191.3" cy="485.4" r="3.45"/><circle cx="1193.4" cy="485.8" r="3.45"/><circle cx="1200.0" cy="485.0" r="3.45"/><circle cx="1202.2" cy="485.6" r="3.45"/><circle cx="1204.4" cy="485.0" r="3.45"/><circle cx="1206.2" cy="485.5" r="3.45"/><circle cx="1209.3" cy="484.5" r="3.45"/><circle cx="1211.8" cy="485.5" r="3.45"/><circle cx="1215.6" cy="484.4" r="3.45"/><circle cx="1217.7" cy="484.9" r="3.45"/><circle cx="1219.2" cy="485.3" r="3.45"/><circle cx="1223.2" cy="485.5" r="3.45"/><circle cx="1226.0" cy="486.2" r="3.45"/><circle cx="1226.8" cy="484.4" r="3.45"/><circle cx="1230.8" cy="484.9" r="3.45"/><circle cx="1231.9" cy="486.2" r="3.45"/><circle cx="1259.1" cy="486.0" r="3.45"/><circle cx="1261.6" cy="486.0" r="3.45"/><circle cx="1263.5" cy="484.6" r="3.45"/><circle cx="1266.5" cy="484.8" r="3.45"/><circle cx="1190.2" cy="486.8" r="3.45"/><circle cx="1195.9" cy="486.5" r="3.45"/><circle cx="1197.9" cy="487.3" r="3.45"/><circle cx="1200.5" cy="486.5" r="3.45"/><circle cx="1203.3" cy="486.5" r="3.45"/><circle cx="1205.3" cy="486.8" r="3.45"/><circle cx="1209.1" cy="488.2" r="3.45"/><circle cx="1210.6" cy="486.9" r="3.45"/><circle cx="1213.9" cy="487.8" r="3.45"/><circle cx="1216.9" cy="487.6" r="3.45"/><circle cx="1219.1" cy="487.4" r="3.45"/><circle cx="1220.6" cy="487.3" r="3.45"/><circle cx="1224.5" cy="487.2" r="3.45"/><circle cx="1225.7" cy="488.0" r="3.45"/><circle cx="1229.7" cy="487.6" r="3.45"/><circle cx="1232.1" cy="487.9" r="3.45"/><circle cx="1233.6" cy="487.5" r="3.45"/><circle cx="1236.0" cy="486.6" r="3.45"/><circle cx="1257.7" cy="488.2" r="3.45"/><circle cx="1260.2" cy="487.7" r="3.45"/><circle cx="1262.6" cy="486.9" r="3.45"/><circle cx="1265.2" cy="486.6" r="3.45"/><circle cx="1266.9" cy="488.1" r="3.45"/><circle cx="1196.2" cy="489.1" r="3.45"/><circle cx="1198.5" cy="488.7" r="3.45"/><circle cx="1201.6" cy="490.0" r="3.45"/><circle cx="1204.5" cy="489.3" r="3.45"/><circle cx="1206.5" cy="489.2" r="3.45"/><circle cx="1209.6" cy="490.4" r="3.45"/><circle cx="1211.3" cy="488.7" r="3.45"/><circle cx="1215.4" cy="490.5" r="3.45"/><circle cx="1218.0" cy="489.1" r="3.45"/><circle cx="1220.7" cy="489.7" r="3.45"/><circle cx="1222.7" cy="488.8" r="3.45"/><circle cx="1224.5" cy="488.7" r="3.45"/><circle cx="1227.6" cy="490.3" r="3.45"/><circle cx="1231.1" cy="489.1" r="3.45"/><circle cx="1232.4" cy="488.8" r="3.45"/><circle cx="1258.5" cy="490.2" r="3.45"/><circle cx="1261.4" cy="489.8" r="3.45"/><circle cx="1262.9" cy="490.4" r="3.45"/><circle cx="1265.0" cy="489.1" r="3.45"/><circle cx="1267.5" cy="489.8" r="3.45"/><circle cx="1195.3" cy="492.3" r="3.45"/><circle cx="1198.2" cy="491.7" r="3.45"/><circle cx="1200.7" cy="492.3" r="3.45"/><circle cx="1203.0" cy="492.5" r="3.45"/><circle cx="1204.8" cy="492.4" r="3.45"/><circle cx="1212.7" cy="492.2" r="3.45"/><circle cx="1217.0" cy="492.1" r="3.45"/><circle cx="1218.7" cy="491.3" r="3.45"/><circle cx="1221.7" cy="492.4" r="3.45"/><circle cx="1224.3" cy="491.5" r="3.45"/><circle cx="1226.9" cy="491.2" r="3.45"/><circle cx="1229.1" cy="491.8" r="3.45"/><circle cx="1230.7" cy="490.9" r="3.45"/><circle cx="1234.6" cy="492.9" r="3.45"/><circle cx="1257.3" cy="491.4" r="3.45"/><circle cx="1259.0" cy="492.3" r="3.45"/><circle cx="1263.0" cy="492.5" r="3.45"/><circle cx="1265.7" cy="491.3" r="3.45"/><circle cx="1197.7" cy="493.2" r="3.45"/><circle cx="1199.7" cy="493.8" r="3.45"/><circle cx="1214.5" cy="494.1" r="3.45"/><circle cx="1217.8" cy="493.4" r="3.45"/><circle cx="1219.9" cy="494.7" r="3.45"/><circle cx="1222.3" cy="494.6" r="3.45"/><circle cx="1225.4" cy="493.5" r="3.45"/><circle cx="1226.6" cy="494.0" r="3.45"/><circle cx="1229.1" cy="494.9" r="3.45"/><circle cx="1233.5" cy="494.2" r="3.45"/><circle cx="1235.1" cy="493.3" r="3.45"/><circle cx="1257.9" cy="494.5" r="3.45"/><circle cx="1261.8" cy="493.1" r="3.45"/><circle cx="1263.4" cy="495.0" r="3.45"/><circle cx="1266.4" cy="493.1" r="3.45"/><circle cx="1199.1" cy="495.3" r="3.45"/><circle cx="1217.6" cy="495.8" r="3.45"/><circle cx="1221.4" cy="495.5" r="3.45"/><circle cx="1223.7" cy="496.1" r="3.45"/><circle cx="1227.2" cy="495.8" r="3.45"/><circle cx="1228.9" cy="495.9" r="3.45"/><circle cx="1230.9" cy="495.9" r="3.45"/><circle cx="1234.4" cy="496.8" r="3.45"/><circle cx="1235.9" cy="496.8" r="3.45"/><circle cx="1255.0" cy="496.9" r="3.45"/><circle cx="1256.6" cy="496.4" r="3.45"/><circle cx="1260.4" cy="495.4" r="3.45"/><circle cx="1261.5" cy="495.8" r="3.45"/><circle cx="1265.4" cy="497.2" r="3.45"/><circle cx="1266.4" cy="495.3" r="3.45"/><circle cx="1220.7" cy="497.5" r="3.45"/><circle cx="1221.7" cy="498.0" r="3.45"/><circle cx="1225.5" cy="498.3" r="3.45"/><circle cx="1227.0" cy="497.5" r="3.45"/><circle cx="1229.3" cy="498.9" r="3.45"/><circle cx="1232.7" cy="499.3" r="3.45"/><circle cx="1236.1" cy="499.4" r="3.45"/><circle cx="1237.8" cy="497.7" r="3.45"/><circle cx="1241.1" cy="498.7" r="3.45"/><circle cx="1256.7" cy="499.2" r="3.45"/><circle cx="1258.1" cy="498.1" r="3.45"/><circle cx="1260.6" cy="497.7" r="3.45"/><circle cx="1263.2" cy="498.4" r="3.45"/><circle cx="1265.2" cy="497.7" r="3.45"/><circle cx="1200.6" cy="501.0" r="3.45"/><circle cx="1218.6" cy="500.2" r="3.45"/><circle cx="1221.8" cy="501.1" r="3.45"/><circle cx="1223.7" cy="500.0" r="3.45"/><circle cx="1226.4" cy="501.2" r="3.45"/><circle cx="1227.8" cy="500.6" r="3.45"/><circle cx="1232.4" cy="500.0" r="3.45"/><circle cx="1233.6" cy="500.9" r="3.45"/><circle cx="1235.8" cy="500.5" r="3.45"/><circle cx="1239.3" cy="501.5" r="3.45"/><circle cx="1242.1" cy="500.1" r="3.45"/><circle cx="1243.2" cy="500.1" r="3.45"/><circle cx="1251.7" cy="500.5" r="3.45"/><circle cx="1254.1" cy="500.0" r="3.45"/><circle cx="1257.6" cy="501.6" r="3.45"/><circle cx="1259.8" cy="500.1" r="3.45"/><circle cx="1263.0" cy="501.0" r="3.45"/><circle cx="1264.1" cy="500.2" r="3.45"/><circle cx="1266.9" cy="499.7" r="3.45"/><circle cx="1218.1" cy="503.6" r="3.45"/><circle cx="1219.4" cy="503.5" r="3.45"/><circle cx="1221.7" cy="502.6" r="3.45"/><circle cx="1225.6" cy="502.8" r="3.45"/><circle cx="1228.3" cy="503.0" r="3.45"/><circle cx="1229.1" cy="502.7" r="3.45"/><circle cx="1232.6" cy="503.9" r="3.45"/><circle cx="1234.7" cy="502.4" r="3.45"/><circle cx="1238.2" cy="503.9" r="3.45"/><circle cx="1240.0" cy="503.4" r="3.45"/><circle cx="1243.0" cy="502.1" r="3.45"/><circle cx="1245.9" cy="502.6" r="3.45"/><circle cx="1247.5" cy="503.8" r="3.45"/><circle cx="1250.7" cy="503.1" r="3.45"/><circle cx="1252.4" cy="502.9" r="3.45"/><circle cx="1255.0" cy="502.3" r="3.45"/><circle cx="1259.3" cy="502.2" r="3.45"/><circle cx="1260.9" cy="502.1" r="3.45"/><circle cx="1263.9" cy="502.3" r="3.45"/><circle cx="1266.0" cy="502.9" r="3.45"/><circle cx="1201.2" cy="505.6" r="3.45"/><circle cx="1220.1" cy="505.4" r="3.45"/><circle cx="1223.1" cy="504.7" r="3.45"/><circle cx="1225.6" cy="504.5" r="3.45"/><circle cx="1229.7" cy="505.2" r="3.45"/><circle cx="1230.9" cy="506.0" r="3.45"/><circle cx="1233.5" cy="505.9" r="3.45"/><circle cx="1236.5" cy="504.4" r="3.45"/><circle cx="1239.3" cy="505.9" r="3.45"/><circle cx="1242.2" cy="504.7" r="3.45"/><circle cx="1243.8" cy="504.7" r="3.45"/><circle cx="1246.9" cy="506.1" r="3.45"/><circle cx="1249.9" cy="505.3" r="3.45"/><circle cx="1252.9" cy="504.5" r="3.45"/><circle cx="1254.2" cy="505.7" r="3.45"/><circle cx="1256.7" cy="506.1" r="3.45"/><circle cx="1259.1" cy="504.4" r="3.45"/><circle cx="1262.3" cy="505.2" r="3.45"/><circle cx="1265.7" cy="505.0" r="3.45"/><circle cx="1266.6" cy="504.5" r="3.45"/><circle cx="1201.8" cy="507.4" r="3.45"/><circle cx="1203.9" cy="507.9" r="3.45"/><circle cx="1209.4" cy="507.9" r="3.45"/><circle cx="1219.7" cy="507.8" r="3.45"/><circle cx="1223.3" cy="506.5" r="3.45"/><circle cx="1224.0" cy="506.6" r="3.45"/><circle cx="1228.1" cy="507.4" r="3.45"/><circle cx="1231.0" cy="507.7" r="3.45"/><circle cx="1232.7" cy="508.0" r="3.45"/><circle cx="1234.4" cy="506.7" r="3.45"/><circle cx="1237.6" cy="506.9" r="3.45"/><circle cx="1240.0" cy="506.8" r="3.45"/><circle cx="1243.2" cy="506.5" r="3.45"/><circle cx="1245.1" cy="507.5" r="3.45"/><circle cx="1247.1" cy="508.3" r="3.45"/><circle cx="1251.2" cy="508.3" r="3.45"/><circle cx="1254.2" cy="507.8" r="3.45"/><circle cx="1255.9" cy="506.4" r="3.45"/><circle cx="1258.0" cy="508.2" r="3.45"/><circle cx="1260.9" cy="507.2" r="3.45"/><circle cx="1264.4" cy="507.6" r="3.45"/><circle cx="1266.6" cy="507.6" r="3.45"/><circle cx="1198.2" cy="509.9" r="3.45"/><circle cx="1199.9" cy="509.9" r="3.45"/><circle cx="1203.6" cy="510.2" r="3.45"/><circle cx="1205.9" cy="510.3" r="3.45"/><circle cx="1208.5" cy="509.3" r="3.45"/><circle cx="1211.2" cy="509.7" r="3.45"/><circle cx="1212.5" cy="510.1" r="3.45"/><circle cx="1218.0" cy="510.1" r="3.45"/><circle cx="1224.3" cy="510.1" r="3.45"/><circle cx="1226.3" cy="509.3" r="3.45"/><circle cx="1228.4" cy="508.7" r="3.45"/><circle cx="1231.9" cy="509.6" r="3.45"/><circle cx="1234.7" cy="508.6" r="3.45"/><circle cx="1236.3" cy="509.7" r="3.45"/><circle cx="1238.4" cy="508.6" r="3.45"/><circle cx="1242.5" cy="509.8" r="3.45"/><circle cx="1244.1" cy="508.8" r="3.45"/><circle cx="1247.4" cy="509.2" r="3.45"/><circle cx="1249.4" cy="509.5" r="3.45"/><circle cx="1252.6" cy="510.1" r="3.45"/><circle cx="1255.3" cy="509.3" r="3.45"/><circle cx="1256.5" cy="510.4" r="3.45"/><circle cx="1260.4" cy="510.3" r="3.45"/><circle cx="1261.5" cy="509.3" r="3.45"/><circle cx="1265.3" cy="510.6" r="3.45"/><circle cx="1266.7" cy="509.7" r="3.45"/><circle cx="1228.4" cy="512.7" r="3.45"/><circle cx="1229.1" cy="512.2" r="3.45"/><circle cx="1232.0" cy="512.7" r="3.45"/><circle cx="1236.1" cy="512.2" r="3.45"/><circle cx="1237.8" cy="512.2" r="3.45"/><circle cx="1239.5" cy="511.6" r="3.45"/><circle cx="1243.4" cy="512.3" r="3.45"/><circle cx="1245.4" cy="512.4" r="3.45"/><circle cx="1247.1" cy="512.0" r="3.45"/><circle cx="1250.1" cy="512.1" r="3.45"/><circle cx="1252.5" cy="511.4" r="3.45"/><circle cx="1254.7" cy="511.3" r="3.45"/><circle cx="1258.3" cy="512.6" r="3.45"/><circle cx="1260.1" cy="511.3" r="3.45"/><circle cx="1263.8" cy="511.5" r="3.45"/><circle cx="1265.9" cy="511.7" r="3.45"/><circle cx="1240.8" cy="513.7" r="3.45"/><circle cx="1243.5" cy="513.6" r="3.45"/><circle cx="1246.3" cy="514.4" r="3.45"/><circle cx="1249.6" cy="513.9" r="3.45"/><circle cx="1252.3" cy="514.1" r="3.45"/><circle cx="1253.6" cy="513.0" r="3.45"/><circle cx="1257.1" cy="513.2" r="3.45"/><circle cx="1258.8" cy="513.5" r="3.45"/><circle cx="1262.8" cy="513.4" r="3.45"/><circle cx="1166.6" cy="448.8" r="3.45"/><circle cx="1171.6" cy="451.8" r="3.45"/><circle cx="1189.9" cy="449.9" r="3.45"/><circle cx="1191.8" cy="452.2" r="3.45"/><circle cx="1178.3" cy="458.7" r="3.45"/><circle cx="1207.9" cy="448.8" r="3.45"/><circle cx="1210.8" cy="453.5" r="3.45"/><circle cx="1263.4" cy="447.1" r="3.45"/><circle cx="1267.0" cy="458.5" r="3.45"/><circle cx="1260.5" cy="463.8" r="3.45"/><circle cx="1160.6" cy="464.1" r="3.45"/><circle cx="1165.6" cy="464.4" r="3.45"/><circle cx="1159.9" cy="469.5" r="3.45"/><circle cx="1202.0" cy="467.0" r="3.45"/><circle cx="1190.6" cy="470.1" r="3.45"/><circle cx="1167.8" cy="472.3" r="3.45"/><circle cx="1165.2" cy="475.5" r="3.45"/><circle cx="1173.2" cy="475.0" r="3.45"/><circle cx="1175.4" cy="477.3" r="3.45"/><circle cx="1181.1" cy="476.3" r="3.45"/><circle cx="1189.5" cy="476.1" r="3.45"/><circle cx="1192.9" cy="477.3" r="3.45"/><circle cx="1181.1" cy="481.5" r="3.45"/><circle cx="1180.4" cy="484.6" r="3.45"/><circle cx="1155.7" cy="479.8" r="3.45"/><circle cx="1151.1" cy="483.6" r="3.45"/><circle cx="1164.1" cy="486.2" r="3.45"/><circle cx="1159.7" cy="491.5" r="3.45"/><circle cx="1166.3" cy="493.6" r="3.45"/><circle cx="1150.8" cy="492.7" r="3.45"/><circle cx="1163.7" cy="503.1" r="3.45"/><circle cx="1152.3" cy="505.9" r="3.45"/><circle cx="1159.0" cy="508.4" r="3.45"/><circle cx="1179.5" cy="507.7" r="3.45"/><circle cx="1166.6" cy="511.7" r="3.45"/><circle cx="1170.5" cy="512.6" r="3.45"/><circle cx="1167.1" cy="497.4" r="3.45"/><circle cx="1171.6" cy="498.5" r="3.45"/><circle cx="1172.4" cy="495.1" r="3.45"/><circle cx="1178.1" cy="498.5" r="3.45"/><circle cx="1183.8" cy="499.8" r="3.45"/><circle cx="1185.7" cy="496.6" r="3.45"/><circle cx="1192.5" cy="496.6" r="3.45"/><circle cx="1208.3" cy="461.9" r="3.45"/><circle cx="1213.4" cy="460.0" r="3.45"/><circle cx="1222.5" cy="460.3" r="3.45"/><circle cx="1223.7" cy="463.4" r="3.45"/><circle cx="1214.6" cy="467.8" r="3.45"/><circle cx="1220.6" cy="468.5" r="3.45"/><circle cx="1222.9" cy="472.5" r="3.45"/><circle cx="1225.2" cy="475.8" r="3.45"/><circle cx="1221.4" cy="464.7" r="3.45"/><circle cx="1218.4" cy="464.0" r="3.45"/><circle cx="1201.3" cy="477.7" r="3.45"/><circle cx="1204.7" cy="475.0" r="3.45"/><circle cx="1209.2" cy="474.2" r="3.45"/><circle cx="1213.8" cy="475.0" r="3.45"/><circle cx="1218.4" cy="476.1" r="3.45"/><circle cx="1265.6" cy="477.7" r="3.45"/><circle cx="1281.3" cy="477.5" r="3.45"/><circle cx="1265.6" cy="479.0" r="3.45"/><circle cx="1264.8" cy="480.6" r="3.45"/><circle cx="1265.8" cy="484.2" r="3.45"/><circle cx="1263.2" cy="486.5" r="3.45"/><circle cx="1266.5" cy="486.3" r="3.45"/><circle cx="1263.3" cy="487.2" r="3.45"/><circle cx="1265.9" cy="488.5" r="3.45"/><circle cx="1266.7" cy="487.5" r="3.45"/><circle cx="1270.2" cy="488.7" r="3.45"/><circle cx="1264.6" cy="489.1" r="3.45"/><circle cx="1267.2" cy="490.3" r="3.45"/><circle cx="1268.5" cy="490.9" r="3.45"/><circle cx="1270.9" cy="490.1" r="3.45"/><circle cx="1282.7" cy="489.7" r="3.45"/><circle cx="1284.0" cy="491.0" r="3.45"/><circle cx="1287.0" cy="491.0" r="3.45"/><circle cx="1290.2" cy="490.4" r="3.45"/><circle cx="1292.4" cy="489.1" r="3.45"/><circle cx="1263.2" cy="491.9" r="3.45"/><circle cx="1265.2" cy="492.1" r="3.45"/><circle cx="1268.5" cy="491.9" r="3.45"/><circle cx="1269.5" cy="492.8" r="3.45"/><circle cx="1272.8" cy="491.9" r="3.45"/><circle cx="1275.8" cy="492.5" r="3.45"/><circle cx="1278.8" cy="492.8" r="3.45"/><circle cx="1280.0" cy="493.2" r="3.45"/><circle cx="1283.1" cy="492.9" r="3.45"/><circle cx="1284.9" cy="492.9" r="3.45"/><circle cx="1288.3" cy="493.1" r="3.45"/><circle cx="1264.1" cy="494.4" r="3.45"/><circle cx="1266.8" cy="494.3" r="3.45"/><circle cx="1268.3" cy="493.6" r="3.45"/><circle cx="1271.5" cy="494.6" r="3.45"/><circle cx="1273.6" cy="494.1" r="3.45"/><circle cx="1275.9" cy="494.7" r="3.45"/><circle cx="1279.2" cy="493.8" r="3.45"/><circle cx="1281.3" cy="494.1" r="3.45"/><circle cx="1284.0" cy="495.3" r="3.45"/><circle cx="1286.0" cy="494.8" r="3.45"/><circle cx="1289.8" cy="493.8" r="3.45"/><circle cx="1291.1" cy="495.3" r="3.45"/><circle cx="1262.7" cy="497.3" r="3.45"/><circle cx="1264.9" cy="496.6" r="3.45"/><circle cx="1267.0" cy="496.1" r="3.45"/><circle cx="1270.1" cy="497.2" r="3.45"/><circle cx="1272.4" cy="497.1" r="3.45"/><circle cx="1276.2" cy="496.2" r="3.45"/><circle cx="1277.6" cy="497.5" r="3.45"/><circle cx="1281.1" cy="497.5" r="3.45"/><circle cx="1283.2" cy="497.5" r="3.45"/><circle cx="1286.2" cy="497.2" r="3.45"/><circle cx="1287.8" cy="496.7" r="3.45"/><circle cx="1291.2" cy="497.4" r="3.45"/><circle cx="1293.7" cy="496.6" r="3.45"/><circle cx="1263.1" cy="499.7" r="3.45"/><circle cx="1266.2" cy="499.4" r="3.45"/><circle cx="1268.3" cy="499.2" r="3.45"/><circle cx="1270.9" cy="498.0" r="3.45"/><circle cx="1274.1" cy="498.8" r="3.45"/><circle cx="1277.3" cy="498.3" r="3.45"/><circle cx="1279.8" cy="499.0" r="3.45"/><circle cx="1281.1" cy="498.6" r="3.45"/><circle cx="1283.7" cy="499.8" r="3.45"/><circle cx="1286.5" cy="498.9" r="3.45"/><circle cx="1290.2" cy="498.6" r="3.45"/><circle cx="1292.6" cy="497.9" r="3.45"/><circle cx="1293.8" cy="498.0" r="3.45"/><circle cx="1262.7" cy="501.2" r="3.45"/><circle cx="1264.9" cy="500.2" r="3.45"/><circle cx="1268.5" cy="500.3" r="3.45"/><circle cx="1271.0" cy="501.6" r="3.45"/><circle cx="1272.0" cy="500.4" r="3.45"/><circle cx="1275.4" cy="500.3" r="3.45"/><circle cx="1278.2" cy="500.6" r="3.45"/><circle cx="1280.3" cy="500.4" r="3.45"/><circle cx="1283.7" cy="500.3" r="3.45"/><circle cx="1285.9" cy="500.9" r="3.45"/><circle cx="1289.0" cy="501.0" r="3.45"/><circle cx="1290.9" cy="502.0" r="3.45"/><circle cx="1292.7" cy="500.6" r="3.45"/><circle cx="1263.4" cy="502.8" r="3.45"/><circle cx="1266.3" cy="503.8" r="3.45"/><circle cx="1269.7" cy="502.6" r="3.45"/><circle cx="1271.2" cy="504.3" r="3.45"/><circle cx="1274.3" cy="503.2" r="3.45"/><circle cx="1277.3" cy="503.0" r="3.45"/><circle cx="1279.8" cy="503.5" r="3.45"/><circle cx="1282.1" cy="502.5" r="3.45"/><circle cx="1284.8" cy="503.9" r="3.45"/><circle cx="1286.2" cy="502.4" r="3.45"/><circle cx="1289.0" cy="502.9" r="3.45"/><circle cx="1291.3" cy="504.2" r="3.45"/><circle cx="1262.6" cy="505.4" r="3.45"/><circle cx="1264.8" cy="504.9" r="3.45"/><circle cx="1267.4" cy="506.0" r="3.45"/><circle cx="1271.1" cy="506.5" r="3.45"/><circle cx="1272.2" cy="505.4" r="3.45"/><circle cx="1275.9" cy="505.2" r="3.45"/><circle cx="1276.9" cy="506.4" r="3.45"/><circle cx="1279.5" cy="505.0" r="3.45"/><circle cx="1283.7" cy="506.1" r="3.45"/><circle cx="1285.5" cy="504.7" r="3.45"/><circle cx="1288.1" cy="505.3" r="3.45"/><circle cx="1262.9" cy="507.1" r="3.45"/><circle cx="1265.6" cy="508.4" r="3.45"/><circle cx="1269.9" cy="507.9" r="3.45"/><circle cx="1272.5" cy="508.0" r="3.45"/><circle cx="1274.0" cy="507.2" r="3.45"/><circle cx="1276.8" cy="507.1" r="3.45"/><circle cx="1279.8" cy="508.0" r="3.45"/><circle cx="1283.9" cy="506.8" r="3.45"/><circle cx="1286.7" cy="508.4" r="3.45"/><circle cx="1265.5" cy="509.0" r="3.45"/><circle cx="1267.5" cy="510.5" r="3.45"/><circle cx="1270.8" cy="509.1" r="3.45"/><circle cx="1271.8" cy="510.6" r="3.45"/><circle cx="1276.3" cy="510.0" r="3.45"/><circle cx="1264.8" cy="513.0" r="3.45"/><circle cx="1266.9" cy="511.4" r="3.45"/><circle cx="1269.3" cy="511.2" r="3.45"/><circle cx="1271.5" cy="512.9" r="3.45"/><circle cx="1273.3" cy="511.7" r="3.45"/><circle cx="1263.2" cy="513.5" r="3.45"/><circle cx="1283.5" cy="464.9" r="3.45"/><circle cx="1291.0" cy="465.1" r="3.45"/><circle cx="1293.3" cy="460.2" r="3.45"/><circle cx="1344.9" cy="460.6" r="3.45"/><circle cx="1369.1" cy="451.5" r="3.45"/><circle cx="1369.1" cy="454.5" r="3.45"/><circle cx="1370.9" cy="463.2" r="3.45"/><circle cx="1361.0" cy="466.6" r="3.45"/><circle cx="1366.3" cy="467.8" r="3.45"/><circle cx="1369.4" cy="470.8" r="3.45"/><circle cx="1359.1" cy="474.2" r="3.45"/><circle cx="1369.1" cy="476.3" r="3.45"/><circle cx="1362.4" cy="487.2" r="3.45"/><circle cx="1340.1" cy="469.7" r="3.45"/><circle cx="1317.3" cy="468.5" r="3.45"/><circle cx="1318.9" cy="470.8" r="3.45"/><circle cx="1316.2" cy="473.7" r="3.45"/><circle cx="1309.0" cy="475.2" r="3.45"/><circle cx="1303.7" cy="478.4" r="3.45"/><circle cx="1305.6" cy="479.6" r="3.45"/><circle cx="1324.9" cy="475.8" r="3.45"/><circle cx="1332.9" cy="477.5" r="3.45"/><circle cx="1339.7" cy="478.0" r="3.45"/><circle cx="1337.8" cy="481.1" r="3.45"/><circle cx="1346.4" cy="476.7" r="3.45"/><circle cx="1312.0" cy="485.9" r="3.45"/><circle cx="1329.1" cy="484.9" r="3.45"/><circle cx="1325.3" cy="487.2" r="3.45"/><circle cx="1280.9" cy="477.3" r="3.45"/><circle cx="1283.5" cy="482.2" r="3.45"/><circle cx="1266.8" cy="476.9" r="3.45"/><circle cx="1272.9" cy="486.6" r="3.45"/><circle cx="1293.8" cy="487.5" r="3.45"/><circle cx="1299.5" cy="486.4" r="3.45"/><circle cx="1304.4" cy="487.5" r="3.45"/><circle cx="1301.0" cy="490.6" r="3.45"/><circle cx="1343.5" cy="492.7" r="3.45"/><circle cx="1348.1" cy="493.6" r="3.45"/><circle cx="1353.6" cy="494.5" r="3.45"/><circle cx="1348.1" cy="497.6" r="3.45"/><circle cx="1329.9" cy="491.3" r="3.45"/><circle cx="1326.8" cy="494.4" r="3.45"/><circle cx="1321.5" cy="495.1" r="3.45"/><circle cx="1323.8" cy="492.1" r="3.45"/><circle cx="1311.6" cy="493.6" r="3.45"/><circle cx="1308.6" cy="496.6" r="3.45"/><circle cx="1313.2" cy="495.9" r="3.45"/><circle cx="1302.5" cy="496.6" r="3.45"/><circle cx="1304.0" cy="501.2" r="3.45"/><circle cx="1311.6" cy="502.7" r="3.45"/><circle cx="1305.2" cy="506.5" r="3.45"/><circle cx="1310.1" cy="506.1" r="3.45"/><circle cx="1318.9" cy="504.2" r="3.45"/><circle cx="1317.3" cy="508.0" r="3.45"/><circle cx="1325.9" cy="508.0" r="3.45"/><circle cx="1333.5" cy="507.7" r="3.45"/><circle cx="1295.3" cy="510.7" r="3.45"/><circle cx="1287.3" cy="508.0" r="3.45"/><circle cx="1272.9" cy="513.7" r="3.45"/><circle cx="1263.0" cy="514.1" r="3.45"/><circle cx="1278.2" cy="509.6" r="3.45"/><circle cx="988.7" cy="476.9" r="3.45"/><circle cx="989.0" cy="501.7" r="3.45"/><circle cx="989.4" cy="505.8" r="3.45"/><circle cx="1072.1" cy="475.8" r="3.45"/><circle cx="1069.2" cy="503.9" r="3.45"/><circle cx="1096.8" cy="477.3" r="3.45"/><circle cx="1109.0" cy="468.7" r="3.45"/><circle cx="1115.5" cy="507.3" r="3.45"/><circle cx="1121.9" cy="468.2" r="3.45"/><circle cx="1120.4" cy="446.2" r="3.45"/><circle cx="1129.0" cy="448.5" r="3.45"/><circle cx="1124.6" cy="459.9" r="3.45"/><circle cx="1118.9" cy="424.6" r="3.45"/><circle cx="1121.1" cy="479.9" r="3.45"/><circle cx="1129.5" cy="477.7" r="3.45"/><circle cx="1137.1" cy="479.6" r="3.45"/><circle cx="1135.3" cy="482.7" r="3.45"/><circle cx="1133.6" cy="507.7" r="3.45"/><circle cx="1147.3" cy="467.5" r="3.45"/><circle cx="1159.1" cy="430.3" r="3.45"/><circle cx="1263.3" cy="419.0" r="3.45"/><circle cx="1281.8" cy="415.4" r="3.45"/><circle cx="1267.3" cy="428.2" r="3.45"/><circle cx="1298.1" cy="433.0" r="3.45"/><circle cx="1229.3" cy="439.5" r="3.45"/><circle cx="1260.1" cy="441.9" r="3.45"/><circle cx="1201.2" cy="441.4" r="3.45"/><circle cx="1379.5" cy="466.4" r="3.45"/><circle cx="1401.3" cy="470.2" r="3.45"/><circle cx="1455.0" cy="483.5" r="3.45"/></g>
<g fill="#e1302a"><circle cx="1080.3" cy="380.3" r="3.5"/><circle cx="1084.3" cy="459.7" r="3.5"/></g>
<g fill="#0c4ea2"><circle cx="1400.3" cy="201.8" r="3.5"/><circle cx="1467.7" cy="423.8" r="3.5"/><circle cx="1377.2" cy="413.7" r="3.5"/><circle cx="1391.4" cy="445.0" r="3.5"/><circle cx="1386.3" cy="462.2" r="3.5"/></g>
<line x1="1116.6" y1="186.3" x2="1116.6" y2="529.6" stroke="#000" stroke-width="1.6" stroke-dasharray="2.7 2.1"/>
<line x1="1374.7" y1="186.3" x2="1374.7" y2="529.6" stroke="#000" stroke-width="1.6" stroke-dasharray="2.7 2.1"/>
<line x1="965.2" y1="464.9" x2="1492.8" y2="464.9" stroke="#000" stroke-width="1.6" stroke-dasharray="2.7 2.1"/>
<path d="M965.2 186.3 V529.6 H1491.8" fill="none" stroke="#000" stroke-width="2.5" stroke-linejoin="miter" stroke-linecap="round"/>
<line x1="987.5" y1="529.6" x2="987.5" y2="535.8000000000001" stroke="#000" stroke-width="2.4" stroke-linecap="round"/>
<text x="983.5" y="563.2" font-size="30.3" text-anchor="middle" textLength="31.4" lengthAdjust="spacingAndGlyphs" class="t">−4</text>
<line x1="1116.6" y1="529.6" x2="1116.6" y2="535.8000000000001" stroke="#000" stroke-width="2.4" stroke-linecap="round"/>
<text x="1112.6" y="563.2" font-size="30.3" text-anchor="middle" textLength="31.4" lengthAdjust="spacingAndGlyphs" class="t">−2</text>
<line x1="1245.3" y1="529.6" x2="1245.3" y2="535.8000000000001" stroke="#000" stroke-width="2.4" stroke-linecap="round"/>
<text x="1246.1" y="563.2" font-size="30.3" text-anchor="middle" class="t">0</text>
<line x1="1374.7" y1="529.6" x2="1374.7" y2="535.8000000000001" stroke="#000" stroke-width="2.4" stroke-linecap="round"/>
<text x="1375.5" y="563.2" font-size="30.3" text-anchor="middle" class="t">2</text>
<line x1="959.0" y1="514" x2="965.2" y2="514" stroke="#000" stroke-width="2.4" stroke-linecap="round"/>
<text x="949.8" y="525.2" font-size="30.3" text-anchor="end" class="t">0</text>
<line x1="959.0" y1="415.1" x2="965.2" y2="415.1" stroke="#000" stroke-width="2.4" stroke-linecap="round"/>
<text x="949.8" y="426.3" font-size="30.3" text-anchor="end" class="t">2</text>
<line x1="959.0" y1="316.5" x2="965.2" y2="316.5" stroke="#000" stroke-width="2.4" stroke-linecap="round"/>
<text x="949.8" y="327.7" font-size="30.3" text-anchor="end" class="t">4</text>
<line x1="959.0" y1="217.7" x2="965.2" y2="217.7" stroke="#000" stroke-width="2.4" stroke-linecap="round"/>
<text x="949.8" y="228.89999999999998" font-size="30.3" text-anchor="end" class="t">6</text>
<text x="993.3" y="341.2" font-size="25" textLength="152" lengthAdjust="spacingAndGlyphs" class="t">TG(18:2_33:0)</text>
<text x="1007.9" y="432.9" font-size="25" textLength="151.8" lengthAdjust="spacingAndGlyphs" class="t">TG(17:2_38:7)</text>
<text x="1412.8" y="211.2" font-size="24.5" textLength="65.5" lengthAdjust="spacingAndGlyphs" class="t">Indole</text>
<text x="1312.6" y="326.2" font-size="25" textLength="152" lengthAdjust="spacingAndGlyphs" class="t">TG(16:0_30:2)</text>
<line x1="1438.6" y1="341.6" x2="1465.7" y2="417.3" stroke="#000" stroke-width="2.5" />
<text x="1384" y="404.6" font-size="24.5" textLength="61" lengthAdjust="spacingAndGlyphs" class="t">3-IPA</text>
<text x="1391.2" y="433.4" font-size="24" font-weight="bold" textLength="63.3" lengthAdjust="spacingAndGlyphs">3-IAA</text>
<text x="1401.3" y="454.7" font-size="25.5" textLength="75.8" lengthAdjust="spacingAndGlyphs" class="t">C3-OH</text>
<rect x="1491" y="467" width="2.8" height="2.8" fill="#b9b9b9"/>
<circle cx="1519.1" cy="312.2" r="8.5" fill="#e1302a"/>
<text x="1535.3" y="322.7" font-size="29" textLength="42.3" lengthAdjust="spacingAndGlyphs" class="t">NR</text>
<circle cx="1520" cy="352.6" r="8.5" fill="#0c4ea2"/>
<text x="1535.3" y="362.5" font-size="29" class="t">R</text>
<circle cx="1520.3" cy="391.4" r="8.5" fill="#bebebe"/>
<text x="1535.3" y="399.9" font-size="29" textLength="40.5" lengthAdjust="spacingAndGlyphs" class="t">NS</text>
<text class="t" x="1043.3" y="605.4" font-size="28" textLength="382" lengthAdjust="spacingAndGlyphs">log<tspan font-size="19.6" dy="7.6">2</tspan><tspan dy="-7.6">-transformed fold change</tspan></text>
<text class="t" transform="translate(906.8,367.3) rotate(-90)" font-size="29" text-anchor="middle" textLength="111" lengthAdjust="spacingAndGlyphs">−log<tspan font-size="20.9" dy="9.6">10</tspan><tspan dy="-9.6">(</tspan><tspan font-style="italic">P</tspan>)</text>
<text x="-2.6" y="828.6" font-size="39" font-weight="bold" textLength="25.5" lengthAdjust="spacingAndGlyphs" stroke="#000" stroke-width="0.5" stroke-linejoin="round">d</text>
<g transform="translate(65.3,848.9) scale(1.0143)" fill="#3d3d3d">
<circle cx="0" cy="6.7" r="6.8"/>
<path d="M0 15.3 H-8.5 Q-13 15.3 -13 20 V37.6 Q-13 40 -10.6 40 Q-8.2 40 -8.2 37.6 V22.1 H-6.6 V66.5 Q-6.6 69.2 -3.6 69.2 Q-0.6 69.2 0 66.5 Z"/>
<path d="M0 14.6 H5.5 Q10.5 14.8 12.2 20.7 L15.2 31.5 Q15.8 34.5 13.6 35.6 Q11.4 36.2 10.5 33.8 L6.9 22.1 H6.5 L12.5 46.8 H6.1 V67 Q6.1 69.8 3.4 69.8 Q0.6 69.8 0 67 Z"/>
<rect x="-0.65" y="0.5" width="1.3" height="66.5" fill="#b4b4b4"/>
</g>
<text x="27.1" y="939.9" font-size="26.4" textLength="72.6" lengthAdjust="spacingAndGlyphs" class="t">Serum</text>
<g fill="#c4c4c4"><circle cx="370.9" cy="1170.6" r="3.8"/><circle cx="374.2" cy="1171.3" r="3.8"/><circle cx="376.1" cy="1170.0" r="3.8"/><circle cx="380.6" cy="1171.9" r="3.8"/><circle cx="381.6" cy="1170.7" r="3.8"/><circle cx="384.6" cy="1170.4" r="3.8"/><circle cx="387.5" cy="1171.8" r="3.8"/><circle cx="391.0" cy="1171.5" r="3.8"/><circle cx="393.6" cy="1172.0" r="3.8"/><circle cx="400.8" cy="1170.7" r="3.8"/><circle cx="371.3" cy="1174.3" r="3.8"/><circle cx="375.0" cy="1172.6" r="3.8"/><circle cx="377.3" cy="1172.4" r="3.8"/><circle cx="381.2" cy="1173.7" r="3.8"/><circle cx="383.8" cy="1172.8" r="3.8"/><circle cx="388.0" cy="1174.6" r="3.8"/><circle cx="389.7" cy="1173.5" r="3.8"/><circle cx="391.9" cy="1172.5" r="3.8"/><circle cx="396.9" cy="1173.5" r="3.8"/><circle cx="399.3" cy="1174.6" r="3.8"/><circle cx="401.0" cy="1173.4" r="3.8"/><circle cx="371.6" cy="1175.6" r="3.8"/><circle cx="372.4" cy="1176.5" r="3.8"/><circle cx="375.3" cy="1175.4" r="3.8"/><circle cx="379.9" cy="1177.3" r="3.8"/><circle cx="381.9" cy="1176.2" r="3.8"/><circle cx="386.2" cy="1177.2" r="3.8"/><circle cx="389.5" cy="1177.1" r="3.8"/><circle cx="392.6" cy="1177.3" r="3.8"/><circle cx="394.5" cy="1176.0" r="3.8"/><circle cx="397.3" cy="1177.3" r="3.8"/><circle cx="369.8" cy="1179.4" r="3.8"/><circle cx="372.7" cy="1179.2" r="3.8"/><circle cx="374.2" cy="1178.6" r="3.8"/><circle cx="378.5" cy="1179.9" r="3.8"/><circle cx="381.5" cy="1179.1" r="3.8"/><circle cx="384.0" cy="1179.5" r="3.8"/><circle cx="385.8" cy="1177.9" r="3.8"/><circle cx="390.4" cy="1178.6" r="3.8"/><circle cx="393.3" cy="1179.3" r="3.8"/><circle cx="396.5" cy="1178.1" r="3.8"/><circle cx="360.8" cy="1182.2" r="3.8"/><circle cx="365.3" cy="1181.0" r="3.8"/><circle cx="367.1" cy="1180.2" r="3.8"/><circle cx="370.9" cy="1181.0" r="3.8"/><circle cx="372.7" cy="1180.2" r="3.8"/><circle cx="376.5" cy="1181.6" r="3.8"/><circle cx="380.0" cy="1180.3" r="3.8"/><circle cx="381.6" cy="1181.8" r="3.8"/><circle cx="384.9" cy="1180.1" r="3.8"/><circle cx="387.3" cy="1182.3" r="3.8"/><circle cx="392.6" cy="1181.5" r="3.8"/><circle cx="357.9" cy="1185.0" r="3.8"/><circle cx="360.1" cy="1182.9" r="3.8"/><circle cx="362.0" cy="1184.6" r="3.8"/><circle cx="364.8" cy="1184.4" r="3.8"/><circle cx="368.6" cy="1183.8" r="3.8"/><circle cx="371.8" cy="1183.7" r="3.8"/><circle cx="374.6" cy="1184.1" r="3.8"/><circle cx="377.5" cy="1183.4" r="3.8"/><circle cx="381.6" cy="1184.0" r="3.8"/><circle cx="385.1" cy="1183.1" r="3.8"/><circle cx="388.1" cy="1183.4" r="3.8"/><circle cx="388.8" cy="1184.8" r="3.8"/><circle cx="358.5" cy="1185.7" r="3.8"/><circle cx="361.5" cy="1186.2" r="3.8"/><circle cx="364.5" cy="1187.0" r="3.8"/><circle cx="367.6" cy="1186.8" r="3.8"/><circle cx="371.3" cy="1185.4" r="3.8"/><circle cx="373.8" cy="1186.8" r="3.8"/><circle cx="377.5" cy="1185.8" r="3.8"/><circle cx="380.4" cy="1185.6" r="3.8"/><circle cx="383.3" cy="1185.9" r="3.8"/><circle cx="385.9" cy="1186.5" r="3.8"/><circle cx="388.5" cy="1187.1" r="3.8"/><circle cx="356.5" cy="1189.4" r="3.8"/><circle cx="359.5" cy="1187.9" r="3.8"/><circle cx="364.0" cy="1190.0" r="3.8"/><circle cx="365.2" cy="1189.7" r="3.8"/><circle cx="369.1" cy="1188.2" r="3.8"/><circle cx="371.8" cy="1189.5" r="3.8"/><circle cx="374.2" cy="1189.2" r="3.8"/><circle cx="377.8" cy="1188.2" r="3.8"/><circle cx="380.6" cy="1187.9" r="3.8"/><circle cx="383.8" cy="1189.1" r="3.8"/><circle cx="386.0" cy="1188.1" r="3.8"/><circle cx="389.9" cy="1189.2" r="3.8"/><circle cx="354.5" cy="1190.6" r="3.8"/><circle cx="358.8" cy="1190.9" r="3.8"/><circle cx="360.3" cy="1190.6" r="3.8"/><circle cx="363.4" cy="1192.0" r="3.8"/><circle cx="367.0" cy="1192.1" r="3.8"/><circle cx="370.7" cy="1192.1" r="3.8"/><circle cx="374.2" cy="1192.4" r="3.8"/><circle cx="376.0" cy="1191.3" r="3.8"/><circle cx="379.4" cy="1192.7" r="3.8"/><circle cx="382.2" cy="1192.2" r="3.8"/><circle cx="385.9" cy="1190.5" r="3.8"/><circle cx="389.4" cy="1192.7" r="3.8"/><circle cx="392.1" cy="1191.7" r="3.8"/><circle cx="394.0" cy="1191.5" r="3.8"/><circle cx="397.8" cy="1191.9" r="3.8"/><circle cx="350.2" cy="1195.3" r="3.8"/><circle cx="354.3" cy="1195.3" r="3.8"/><circle cx="357.5" cy="1195.4" r="3.8"/><circle cx="360.5" cy="1194.7" r="3.8"/><circle cx="363.7" cy="1193.5" r="3.8"/><circle cx="365.7" cy="1193.4" r="3.8"/><circle cx="368.0" cy="1194.0" r="3.8"/><circle cx="371.4" cy="1194.7" r="3.8"/><circle cx="376.0" cy="1193.4" r="3.8"/><circle cx="377.3" cy="1195.1" r="3.8"/><circle cx="381.7" cy="1193.1" r="3.8"/><circle cx="384.0" cy="1195.4" r="3.8"/><circle cx="387.7" cy="1195.3" r="3.8"/><circle cx="388.9" cy="1194.5" r="3.8"/><circle cx="393.6" cy="1194.9" r="3.8"/><circle cx="395.1" cy="1194.1" r="3.8"/><circle cx="349.4" cy="1196.6" r="3.8"/><circle cx="351.5" cy="1195.7" r="3.8"/><circle cx="355.5" cy="1197.4" r="3.8"/><circle cx="358.1" cy="1196.7" r="3.8"/><circle cx="362.0" cy="1195.8" r="3.8"/><circle cx="365.4" cy="1195.8" r="3.8"/><circle cx="368.0" cy="1195.8" r="3.8"/><circle cx="370.6" cy="1195.8" r="3.8"/><circle cx="373.1" cy="1197.6" r="3.8"/><circle cx="376.7" cy="1197.2" r="3.8"/><circle cx="378.7" cy="1195.9" r="3.8"/><circle cx="383.3" cy="1198.0" r="3.8"/><circle cx="385.2" cy="1195.9" r="3.8"/><circle cx="389.0" cy="1197.3" r="3.8"/><circle cx="390.8" cy="1197.5" r="3.8"/><circle cx="395.5" cy="1196.7" r="3.8"/><circle cx="397.5" cy="1196.5" r="3.8"/><circle cx="351.4" cy="1198.9" r="3.8"/><circle cx="354.4" cy="1198.5" r="3.8"/><circle cx="357.9" cy="1200.4" r="3.8"/><circle cx="360.4" cy="1198.4" r="3.8"/><circle cx="362.9" cy="1199.2" r="3.8"/><circle cx="364.8" cy="1199.0" r="3.8"/><circle cx="369.6" cy="1199.2" r="3.8"/><circle cx="371.4" cy="1200.2" r="3.8"/><circle cx="375.4" cy="1200.6" r="3.8"/><circle cx="378.7" cy="1199.7" r="3.8"/><circle cx="381.6" cy="1200.1" r="3.8"/><circle cx="383.7" cy="1200.1" r="3.8"/><circle cx="387.5" cy="1200.0" r="3.8"/><circle cx="389.0" cy="1199.5" r="3.8"/><circle cx="394.1" cy="1200.2" r="3.8"/><circle cx="396.9" cy="1200.7" r="3.8"/><circle cx="398.5" cy="1198.5" r="3.8"/><circle cx="349.5" cy="1201.7" r="3.8"/><circle cx="352.5" cy="1202.0" r="3.8"/><circle cx="354.9" cy="1202.8" r="3.8"/><circle cx="357.5" cy="1201.9" r="3.8"/><circle cx="361.8" cy="1202.8" r="3.8"/><circle cx="363.4" cy="1202.1" r="3.8"/><circle cx="366.7" cy="1202.0" r="3.8"/><circle cx="370.1" cy="1202.1" r="3.8"/><circle cx="372.4" cy="1201.1" r="3.8"/><circle cx="376.2" cy="1202.5" r="3.8"/><circle cx="379.1" cy="1201.7" r="3.8"/><circle cx="381.3" cy="1201.4" r="3.8"/><circle cx="386.2" cy="1201.4" r="3.8"/><circle cx="389.0" cy="1203.2" r="3.8"/><circle cx="392.0" cy="1202.4" r="3.8"/><circle cx="395.4" cy="1201.3" r="3.8"/><circle cx="396.5" cy="1202.0" r="3.8"/><circle cx="350.9" cy="1204.4" r="3.8"/><circle cx="354.2" cy="1204.3" r="3.8"/><circle cx="357.8" cy="1204.5" r="3.8"/><circle cx="361.1" cy="1205.2" r="3.8"/><circle cx="361.8" cy="1204.1" r="3.8"/><circle cx="366.2" cy="1204.6" r="3.8"/><circle cx="367.8" cy="1205.2" r="3.8"/><circle cx="370.9" cy="1205.5" r="3.8"/><circle cx="374.7" cy="1205.3" r="3.8"/><circle cx="379.1" cy="1205.7" r="3.8"/><circle cx="380.8" cy="1203.5" r="3.8"/><circle cx="384.4" cy="1205.2" r="3.8"/><circle cx="386.2" cy="1204.7" r="3.8"/><circle cx="389.3" cy="1203.6" r="3.8"/><circle cx="392.7" cy="1203.9" r="3.8"/><circle cx="397.0" cy="1205.0" r="3.8"/><circle cx="350.2" cy="1208.0" r="3.8"/><circle cx="352.5" cy="1208.2" r="3.8"/><circle cx="356.1" cy="1207.1" r="3.8"/><circle cx="358.6" cy="1208.3" r="3.8"/><circle cx="361.9" cy="1206.1" r="3.8"/><circle cx="365.3" cy="1207.4" r="3.8"/><circle cx="367.0" cy="1207.9" r="3.8"/><circle cx="369.9" cy="1206.7" r="3.8"/><circle cx="374.4" cy="1207.9" r="3.8"/><circle cx="376.6" cy="1206.1" r="3.8"/><circle cx="379.8" cy="1208.4" r="3.8"/><circle cx="382.2" cy="1208.3" r="3.8"/><circle cx="385.6" cy="1207.0" r="3.8"/><circle cx="389.5" cy="1207.3" r="3.8"/><circle cx="391.7" cy="1207.5" r="3.8"/><circle cx="350.7" cy="1210.2" r="3.8"/><circle cx="353.1" cy="1209.4" r="3.8"/><circle cx="357.5" cy="1210.4" r="3.8"/><circle cx="359.0" cy="1208.8" r="3.8"/><circle cx="363.7" cy="1210.0" r="3.8"/><circle cx="365.2" cy="1210.2" r="3.8"/><circle cx="367.9" cy="1211.0" r="3.8"/><circle cx="373.0" cy="1210.7" r="3.8"/><circle cx="375.4" cy="1209.7" r="3.8"/><circle cx="376.7" cy="1210.8" r="3.8"/><circle cx="382.0" cy="1210.2" r="3.8"/><circle cx="383.6" cy="1211.0" r="3.8"/><circle cx="386.7" cy="1209.6" r="3.8"/><circle cx="388.9" cy="1209.2" r="3.8"/><circle cx="347.2" cy="1212.9" r="3.8"/><circle cx="350.3" cy="1212.8" r="3.8"/><circle cx="351.9" cy="1213.0" r="3.8"/><circle cx="355.1" cy="1211.3" r="3.8"/><circle cx="358.1" cy="1212.0" r="3.8"/><circle cx="361.7" cy="1211.8" r="3.8"/><circle cx="364.3" cy="1212.9" r="3.8"/><circle cx="367.2" cy="1212.8" r="3.8"/><circle cx="371.3" cy="1213.2" r="3.8"/><circle cx="373.5" cy="1212.4" r="3.8"/><circle cx="377.5" cy="1213.0" r="3.8"/><circle cx="379.0" cy="1212.2" r="3.8"/><circle cx="383.5" cy="1213.2" r="3.8"/><circle cx="385.6" cy="1212.1" r="3.8"/><circle cx="388.6" cy="1212.9" r="3.8"/><circle cx="391.0" cy="1211.6" r="3.8"/><circle cx="345.3" cy="1215.7" r="3.8"/><circle cx="347.4" cy="1215.5" r="3.8"/><circle cx="349.9" cy="1214.8" r="3.8"/><circle cx="354.0" cy="1214.0" r="3.8"/><circle cx="357.4" cy="1215.6" r="3.8"/><circle cx="360.4" cy="1214.4" r="3.8"/><circle cx="363.1" cy="1214.4" r="3.8"/><circle cx="366.0" cy="1215.3" r="3.8"/><circle cx="368.1" cy="1214.7" r="3.8"/><circle cx="372.3" cy="1216.2" r="3.8"/><circle cx="376.0" cy="1215.3" r="3.8"/><circle cx="378.9" cy="1215.2" r="3.8"/><circle cx="381.1" cy="1215.6" r="3.8"/><circle cx="385.0" cy="1214.5" r="3.8"/><circle cx="385.9" cy="1216.3" r="3.8"/><circle cx="342.7" cy="1216.9" r="3.8"/><circle cx="346.6" cy="1218.7" r="3.8"/><circle cx="350.3" cy="1216.5" r="3.8"/><circle cx="351.3" cy="1216.8" r="3.8"/><circle cx="355.5" cy="1217.9" r="3.8"/><circle cx="357.6" cy="1217.5" r="3.8"/><circle cx="360.4" cy="1218.1" r="3.8"/><circle cx="364.1" cy="1218.0" r="3.8"/><circle cx="366.9" cy="1217.9" r="3.8"/><circle cx="371.4" cy="1216.8" r="3.8"/><circle cx="373.1" cy="1217.3" r="3.8"/><circle cx="376.9" cy="1216.9" r="3.8"/><circle cx="380.2" cy="1217.4" r="3.8"/><circle cx="381.9" cy="1218.6" r="3.8"/><circle cx="385.4" cy="1217.9" r="3.8"/><circle cx="345.2" cy="1219.6" r="3.8"/><circle cx="346.9" cy="1220.6" r="3.8"/><circle cx="351.4" cy="1219.5" r="3.8"/><circle cx="354.8" cy="1221.0" r="3.8"/><circle cx="357.4" cy="1220.3" r="3.8"/><circle cx="359.3" cy="1220.6" r="3.8"/><circle cx="363.5" cy="1221.1" r="3.8"/><circle cx="365.6" cy="1219.7" r="3.8"/><circle cx="368.8" cy="1220.6" r="3.8"/><circle cx="371.3" cy="1219.3" r="3.8"/><circle cx="376.1" cy="1221.2" r="3.8"/><circle cx="377.3" cy="1220.4" r="3.8"/><circle cx="381.4" cy="1220.1" r="3.8"/><circle cx="384.3" cy="1221.0" r="3.8"/><circle cx="344.2" cy="1223.9" r="3.8"/><circle cx="345.4" cy="1223.3" r="3.8"/><circle cx="349.6" cy="1223.8" r="3.8"/><circle cx="351.3" cy="1222.0" r="3.8"/><circle cx="355.9" cy="1223.9" r="3.8"/><circle cx="358.6" cy="1223.5" r="3.8"/><circle cx="361.7" cy="1223.2" r="3.8"/><circle cx="363.8" cy="1223.5" r="3.8"/><circle cx="368.3" cy="1221.9" r="3.8"/><circle cx="371.4" cy="1223.8" r="3.8"/><circle cx="373.8" cy="1223.8" r="3.8"/><circle cx="377.0" cy="1223.2" r="3.8"/><circle cx="379.6" cy="1223.4" r="3.8"/><circle cx="381.3" cy="1222.2" r="3.8"/><circle cx="384.3" cy="1223.6" r="3.8"/><circle cx="348.5" cy="1225.7" r="3.8"/><circle cx="350.8" cy="1225.1" r="3.8"/><circle cx="357.0" cy="1226.4" r="3.8"/><circle cx="359.9" cy="1225.2" r="3.8"/><circle cx="362.8" cy="1226.0" r="3.8"/><circle cx="366.8" cy="1224.9" r="3.8"/><circle cx="368.5" cy="1224.7" r="3.8"/><circle cx="371.0" cy="1225.0" r="3.8"/><circle cx="374.6" cy="1224.3" r="3.8"/><circle cx="376.9" cy="1225.6" r="3.8"/><circle cx="380.5" cy="1224.7" r="3.8"/><circle cx="383.0" cy="1226.2" r="3.8"/><circle cx="358.8" cy="1229.2" r="3.8"/><circle cx="361.8" cy="1228.0" r="3.8"/><circle cx="373.1" cy="1227.0" r="3.8"/><circle cx="376.7" cy="1229.2" r="3.8"/><circle cx="379.4" cy="1227.7" r="3.8"/><circle cx="358.9" cy="1230.0" r="3.8"/><circle cx="362.5" cy="1230.0" r="3.8"/><circle cx="374.8" cy="1231.4" r="3.8"/><circle cx="376.8" cy="1230.6" r="3.8"/><circle cx="361.8" cy="1232.7" r="3.8"/><circle cx="363.7" cy="1234.1" r="3.8"/><circle cx="373.3" cy="1234.3" r="3.8"/><circle cx="375.8" cy="1233.6" r="3.8"/><circle cx="363.6" cy="1236.6" r="3.8"/><circle cx="367.0" cy="1235.7" r="3.8"/><circle cx="368.9" cy="1236.1" r="3.8"/><circle cx="371.1" cy="1236.8" r="3.8"/><circle cx="363.8" cy="1237.5" r="3.8"/><circle cx="368.6" cy="1239.0" r="3.8"/><circle cx="369.3" cy="1238.7" r="3.8"/><circle cx="369.7" cy="1240.0" r="3.8"/><circle cx="401.3" cy="1212.0" r="3.8"/><circle cx="416.1" cy="1215.4" r="3.8"/><circle cx="413.8" cy="1222.2" r="3.8"/><circle cx="417.6" cy="1220.7" r="3.8"/><circle cx="434.3" cy="1219.2" r="3.8"/><circle cx="395.9" cy="1221.5" r="3.8"/><circle cx="404.3" cy="1222.6" r="3.8"/><circle cx="393.7" cy="1230.2" r="3.8"/><circle cx="388.4" cy="1233.2" r="3.8"/><circle cx="391.4" cy="1231.3" r="3.8"/><circle cx="401.6" cy="1230.6" r="3.8"/><circle cx="399.6" cy="1242.7" r="3.8"/><circle cx="371.1" cy="1249.2" r="3.8"/><circle cx="329.0" cy="1222.8" r="3.8"/><circle cx="322.7" cy="1236.6" r="3.8"/><circle cx="334.8" cy="1233.6" r="3.8"/><circle cx="335.9" cy="1235.5" r="3.8"/><circle cx="332.2" cy="1237.4" r="3.8"/><circle cx="331.4" cy="1243.1" r="3.8"/><circle cx="335.9" cy="1244.6" r="3.8"/><circle cx="324.2" cy="1245.8" r="3.8"/><circle cx="320.0" cy="1248.0" r="3.8"/><circle cx="345.4" cy="1246.4" r="3.8"/><circle cx="349.6" cy="1248.0" r="3.8"/><circle cx="353.0" cy="1249.2" r="3.8"/><circle cx="358.0" cy="1248.0" r="3.8"/><circle cx="358.0" cy="1242.0" r="3.8"/><circle cx="355.7" cy="1245.0" r="3.8"/><circle cx="320.0" cy="1230.6" r="3.8"/><circle cx="383.8" cy="1134.9" r="3.8"/><circle cx="401.6" cy="1131.1" r="3.8"/><circle cx="343.3" cy="1153.7" r="3.8"/><circle cx="390.6" cy="1148.2" r="3.8"/><circle cx="399.7" cy="1150.9" r="3.8"/><circle cx="382.3" cy="1150.5" r="3.8"/><circle cx="383.0" cy="1155.1" r="3.8"/><circle cx="366.3" cy="1157.0" r="3.8"/><circle cx="371.6" cy="1161.1" r="3.8"/><circle cx="377.7" cy="1161.9" r="3.8"/><circle cx="394.4" cy="1158.1" r="3.8"/><circle cx="402.0" cy="1160.4" r="3.8"/><circle cx="352.7" cy="1162.7" r="3.8"/><circle cx="362.9" cy="1164.6" r="3.8"/><circle cx="416.5" cy="1165.3" r="3.8"/><circle cx="412.3" cy="1169.5" r="3.8"/><circle cx="415.7" cy="1172.5" r="3.8"/><circle cx="421.0" cy="1173.7" r="3.8"/><circle cx="427.8" cy="1174.8" r="3.8"/><circle cx="436.2" cy="1176.2" r="3.8"/><circle cx="431.8" cy="1184.1" r="3.8"/><circle cx="410.8" cy="1207.8" r="3.8"/><circle cx="323.0" cy="1184.8" r="3.8"/><circle cx="341.8" cy="1174.4" r="3.8"/><circle cx="351.1" cy="1170.3" r="3.8"/><circle cx="349.6" cy="1174.8" r="3.8"/><circle cx="351.9" cy="1179.4" r="3.8"/><circle cx="344.3" cy="1182.4" r="3.8"/><circle cx="340.7" cy="1185.4" r="3.8"/><circle cx="335.8" cy="1196.8" r="3.8"/><circle cx="342.8" cy="1201.8" r="3.8"/><circle cx="339.0" cy="1208.2" r="3.8"/><circle cx="404.3" cy="1185.4" r="3.8"/><circle cx="403.5" cy="1179.4" r="3.8"/><circle cx="185.4" cy="1174.4" r="3.8"/><circle cx="212.7" cy="1170.6" r="3.8"/><circle cx="214.2" cy="1250.1" r="3.8"/><circle cx="245.2" cy="1213.9" r="3.8"/><circle cx="262.1" cy="1222.3" r="3.8"/><circle cx="257.7" cy="1228.8" r="3.8"/><circle cx="278.0" cy="1228.8" r="3.8"/><circle cx="258.4" cy="1244.0" r="3.8"/><circle cx="262.1" cy="1249.6" r="3.8"/><circle cx="276.7" cy="1245.1" r="3.8"/><circle cx="285.3" cy="1246.6" r="3.8"/><circle cx="317.2" cy="1230.6" r="3.8"/><circle cx="314.2" cy="1233.7" r="3.8"/><circle cx="308.6" cy="1244.0" r="3.8"/><circle cx="312.7" cy="1249.6" r="3.8"/><circle cx="318.0" cy="1248.1" r="3.8"/><circle cx="363.1" cy="1128.4" r="3.8"/><circle cx="372.4" cy="1116.1" r="3.8"/><circle cx="445.3" cy="1177.9" r="3.8"/><circle cx="464.3" cy="1178.7" r="3.8"/><circle cx="474.6" cy="1184.8" r="3.8"/><circle cx="521.6" cy="1172.2" r="3.8"/><circle cx="511.9" cy="1186.9" r="3.8"/><circle cx="514.9" cy="1186.9" r="3.8"/><circle cx="447.9" cy="1208.2" r="3.8"/><circle cx="352.4" cy="1183.2" r="3.8"/><circle cx="349.5" cy="1186.9" r="3.8"/><circle cx="353.2" cy="1189.1" r="3.8"/><circle cx="348.8" cy="1191.3" r="3.8"/><circle cx="345.8" cy="1195.0" r="3.8"/><circle cx="351.0" cy="1195.7" r="3.8"/><circle cx="345.1" cy="1218.6" r="3.8"/><circle cx="342.1" cy="1223.7" r="3.8"/><circle cx="345.8" cy="1227.4" r="3.8"/><circle cx="347.3" cy="1232.6" r="3.8"/><circle cx="348.8" cy="1237.8" r="3.8"/><circle cx="344.3" cy="1235.5" r="3.8"/><circle cx="401.1" cy="1195.7" r="3.8"/><circle cx="401.9" cy="1200.1" r="3.8"/><circle cx="398.2" cy="1191.3" r="3.8"/><circle cx="399.6" cy="1204.6" r="3.8"/><circle cx="381.2" cy="1156.6" r="3.8"/><circle cx="379.0" cy="1160.3" r="3.8"/><circle cx="371.6" cy="1159.6" r="3.8"/><circle cx="376.0" cy="1161.1" r="3.8"/><circle cx="397.4" cy="1179.5" r="3.8"/><circle cx="400.4" cy="1174.3" r="3.8"/></g>
<g fill="#2a62ae"><circle cx="434.9" cy="931.4" r="3.9"/><circle cx="464.0" cy="1045.3" r="3.9"/><circle cx="636.5" cy="1138.2" r="3.9"/><circle cx="435.2" cy="1140.8" r="3.9"/><circle cx="409.6" cy="1151.1" r="3.9"/><circle cx="421.8" cy="1154.5" r="3.9"/><circle cx="425.6" cy="1153.0" r="3.9"/><circle cx="436.2" cy="1156.5" r="3.9"/><circle cx="423.0" cy="1163.0" r="3.9"/><circle cx="435.7" cy="1164.0" r="3.9"/><circle cx="457.5" cy="1161.8" r="3.9"/></g>
<line x1="206.8" y1="916" x2="206.8" y2="1266.1" stroke="#000" stroke-width="1.6" stroke-dasharray="2.7 2.1"/>
<line x1="404.8" y1="916" x2="404.8" y2="1266.1" stroke="#000" stroke-width="1.6" stroke-dasharray="2.7 2.1"/>
<line x1="132.5" y1="1165.1" x2="678.2" y2="1165.1" stroke="#000" stroke-width="1.6" stroke-dasharray="2.7 2.1"/>
<path d="M132.5 916 V1266.1 H677.2" fill="none" stroke="#000" stroke-width="2.5" stroke-linejoin="miter" stroke-linecap="round"/>
<line x1="206.7" y1="1266.1" x2="206.7" y2="1271.6" stroke="#000" stroke-width="2.4" stroke-linecap="round"/>
<text x="201.5" y="1301.9" font-size="31" text-anchor="middle" textLength="28" lengthAdjust="spacingAndGlyphs" class="t">-2</text>
<line x1="305.3" y1="1266.1" x2="305.3" y2="1271.6" stroke="#000" stroke-width="2.4" stroke-linecap="round"/>
<text x="307.4" y="1301.9" font-size="31" text-anchor="middle" class="t">0</text>
<line x1="405" y1="1266.1" x2="405" y2="1271.6" stroke="#000" stroke-width="2.4" stroke-linecap="round"/>
<text x="407.1" y="1301.9" font-size="31" text-anchor="middle" class="t">2</text>
<line x1="503.9" y1="1266.1" x2="503.9" y2="1271.6" stroke="#000" stroke-width="2.4" stroke-linecap="round"/>
<text x="507.3" y="1301.9" font-size="31" text-anchor="middle" class="t">4</text>
<line x1="602.9" y1="1266.1" x2="602.9" y2="1271.6" stroke="#000" stroke-width="2.4" stroke-linecap="round"/>
<text x="608.3" y="1301.9" font-size="31" text-anchor="middle" class="t">6</text>
<line x1="126.8" y1="1250.7" x2="132.5" y2="1250.7" stroke="#000" stroke-width="2.4" stroke-linecap="round"/>
<text x="119.9" y="1264.6" font-size="31" text-anchor="end" class="t">0</text>
<line x1="126.8" y1="1165.1" x2="132.5" y2="1165.1" stroke="#000" stroke-width="2.4" stroke-linecap="round"/>
<text x="119.3" y="1176.6" font-size="31" text-anchor="end" class="t">1</text>
<line x1="126.8" y1="1079.3" x2="132.5" y2="1079.3" stroke="#000" stroke-width="2.4" stroke-linecap="round"/>
<text x="119.9" y="1088.6" font-size="31" text-anchor="end" class="t">2</text>
<line x1="126.8" y1="993.7" x2="132.5" y2="993.7" stroke="#000" stroke-width="2.4" stroke-linecap="round"/>
<text x="117.6" y="1002.8" font-size="31" text-anchor="end" class="t">3</text>
<text x="444.6" y="942.5" font-size="27" font-weight="bold" textLength="73.5" lengthAdjust="spacingAndGlyphs">3-IAA</text>
<text x="456.9" y="1072.6" font-size="25.5" textLength="208.3" lengthAdjust="spacingAndGlyphs" class="t">C5-OH (C3-DC-M)</text>
<text x="414.2" y="1123.7" font-size="25.5" textLength="41.3" lengthAdjust="spacingAndGlyphs" class="t">Leu</text>
<text x="484.3" y="1123.7" font-size="25.5" textLength="77.8" lengthAdjust="spacingAndGlyphs" class="t">C3-OH</text>
<text x="611.8" y="1128.2" font-size="25.5" textLength="68.6" lengthAdjust="spacingAndGlyphs" class="t">GLCA</text>
<text x="457.8" y="1154.9" font-size="25.5" textLength="85.8" lengthAdjust="spacingAndGlyphs" class="t">HipAcid</text>
<line x1="425" y1="1126.8" x2="425" y2="1148.4" stroke="#000" stroke-width="2.9" />
<line x1="478.7" y1="1118.5" x2="442" y2="1138.2" stroke="#000" stroke-width="2.9" />
<circle cx="701" cy="971" r="8.8" fill="#e03b2c"/>
<text x="718.3" y="982" font-size="31" textLength="45.7" lengthAdjust="spacingAndGlyphs" class="t">NR</text>
<circle cx="701.9" cy="1012.9" r="8.8" fill="#2a62ae"/>
<text x="717.5" y="1023.7" font-size="31" class="t">R</text>
<circle cx="702.4" cy="1053.1" r="8.8" fill="#bdbdbd"/>
<text x="717.4" y="1062.2" font-size="31" textLength="43.6" lengthAdjust="spacingAndGlyphs" class="t">NS</text>
<text class="t" x="205" y="1346" font-size="29.7" textLength="385.5" lengthAdjust="spacingAndGlyphs">log<tspan font-size="18.4" dy="10.7">2</tspan><tspan dy="-10.7">-transformed fold change</tspan></text>
<text class="t" transform="translate(79.5,1090.8) rotate(-90)" font-size="31" text-anchor="middle" textLength="108.6" lengthAdjust="spacingAndGlyphs">-log<tspan font-size="19.2" dy="10.5">10</tspan><tspan dy="-10.5">(</tspan><tspan font-style="italic">P</tspan>)</text>
<text x="739.3" y="829" font-size="37.5" font-weight="bold" textLength="22" lengthAdjust="spacingAndGlyphs" stroke="#000" stroke-width="0.5" stroke-linejoin="round">e</text>
<g transform="translate(790.4,826.8) scale(1.0272)" fill="#3d3d3d">
<circle cx="0" cy="6.7" r="6.8"/>
<path d="M0 15.3 H-8.5 Q-13 15.3 -13 20 V37.6 Q-13 40 -10.6 40 Q-8.2 40 -8.2 37.6 V22.1 H-6.6 V66.5 Q-6.6 69.2 -3.6 69.2 Q-0.6 69.2 0 66.5 Z"/>
<path d="M0 14.6 H5.5 Q10.5 14.8 12.2 20.7 L15.2 31.5 Q15.8 34.5 13.6 35.6 Q11.4 36.2 10.5 33.8 L6.9 22.1 H6.5 L12.5 46.8 H6.1 V67 Q6.1 69.8 3.4 69.8 Q0.6 69.8 0 67 Z"/>
<rect x="-0.65" y="0.5" width="1.3" height="66.5" fill="#b4b4b4"/>
</g>
<path d="M794 821.8 C812 808 840 802 850 840" fill="none" stroke="#000" stroke-width="3.6"/>
<path d="M843.5 842 L850.8 843 L855.2 839.2 L852.6 851.3 Z" fill="#000"/>
<g transform="translate(837.7,858.2) scale(1.0426,0.9848)">
<path fill="#404040" d="M0.2 15.5 L5.6 7.6 L4.6 3.2 Q5 1.6 6.6 2.6 L9 5.6 L11.6 4.6 Q12.6 1.6 15.6 0.4 Q18.6 0 19.8 3.4 L20 6.6 Q27 5.6 31 9.6 Q36 15 35.6 23 Q35.4 29.6 33.4 32 L31 32.8 H12.6 L11.6 31.4 L14.4 30.6 L13.6 28.6 L16.6 26.6 L17.4 22.6 L14.6 24.4 L11.6 24 L9.6 22.4 L5.4 23 L4.8 21.4 L8.4 19.6 L3.6 18.4 L1 17.4 Z"/>
<circle cx="7.3" cy="12.2" r="1.1" fill="#fff"/>
<path d="M11.4 5.6 L12.6 8.6 L17.8 7.4" fill="none" stroke="#fff" stroke-width="0.6"/>
<path d="M33.6 32.2 Q38 32.6 44 32.4 Q52.6 31.6 53.4 24.6 Q53.6 21.6 51.4 20.2" fill="none" stroke="#404040" stroke-width="0.9"/>
</g>
<text x="821.2" y="912.3" font-size="27" textLength="86.2" lengthAdjust="spacingAndGlyphs" class="t">Gnotob.</text>
<text x="827.9" y="935.3" font-size="26.7" textLength="72.8" lengthAdjust="spacingAndGlyphs" class="t">Serum</text>
<g fill="#c4c4c4"><circle cx="1244.6" cy="1196.7" r="3.8"/><circle cx="1246.3" cy="1196.8" r="3.8"/><circle cx="1250.1" cy="1197.0" r="3.8"/><circle cx="1252.7" cy="1195.7" r="3.8"/><circle cx="1246.4" cy="1198.9" r="3.8"/><circle cx="1249.4" cy="1200.3" r="3.8"/><circle cx="1251.9" cy="1200.3" r="3.8"/><circle cx="1254.0" cy="1199.0" r="3.8"/><circle cx="1247.2" cy="1201.0" r="3.8"/><circle cx="1249.9" cy="1202.9" r="3.8"/><circle cx="1253.8" cy="1200.6" r="3.8"/><circle cx="1255.5" cy="1202.8" r="3.8"/><circle cx="1242.4" cy="1205.0" r="3.8"/><circle cx="1246.0" cy="1205.3" r="3.8"/><circle cx="1247.2" cy="1205.5" r="3.8"/><circle cx="1251.7" cy="1203.4" r="3.8"/><circle cx="1253.9" cy="1203.7" r="3.8"/><circle cx="1244.6" cy="1207.6" r="3.8"/><circle cx="1247.2" cy="1208.1" r="3.8"/><circle cx="1250.2" cy="1208.1" r="3.8"/><circle cx="1252.3" cy="1206.8" r="3.8"/><circle cx="1289.2" cy="1208.0" r="3.8"/><circle cx="1240.0" cy="1209.0" r="3.8"/><circle cx="1241.5" cy="1208.6" r="3.8"/><circle cx="1246.1" cy="1208.9" r="3.8"/><circle cx="1249.3" cy="1210.7" r="3.8"/><circle cx="1252.4" cy="1209.5" r="3.8"/><circle cx="1253.6" cy="1209.7" r="3.8"/><circle cx="1256.9" cy="1210.6" r="3.8"/><circle cx="1286.2" cy="1208.8" r="3.8"/><circle cx="1290.6" cy="1210.2" r="3.8"/><circle cx="1238.9" cy="1212.0" r="3.8"/><circle cx="1240.0" cy="1211.4" r="3.8"/><circle cx="1242.7" cy="1211.6" r="3.8"/><circle cx="1246.5" cy="1212.7" r="3.8"/><circle cx="1250.5" cy="1213.2" r="3.8"/><circle cx="1252.0" cy="1212.2" r="3.8"/><circle cx="1255.4" cy="1211.1" r="3.8"/><circle cx="1286.9" cy="1212.0" r="3.8"/><circle cx="1289.0" cy="1212.7" r="3.8"/><circle cx="1290.9" cy="1212.4" r="3.8"/><circle cx="1309.6" cy="1212.0" r="3.8"/><circle cx="1233.6" cy="1214.5" r="3.8"/><circle cx="1237.4" cy="1215.7" r="3.8"/><circle cx="1239.1" cy="1215.9" r="3.8"/><circle cx="1242.0" cy="1215.4" r="3.8"/><circle cx="1244.5" cy="1214.8" r="3.8"/><circle cx="1248.8" cy="1214.9" r="3.8"/><circle cx="1251.3" cy="1215.8" r="3.8"/><circle cx="1254.4" cy="1214.6" r="3.8"/><circle cx="1285.5" cy="1214.5" r="3.8"/><circle cx="1288.5" cy="1214.7" r="3.8"/><circle cx="1291.4" cy="1214.2" r="3.8"/><circle cx="1311.1" cy="1214.5" r="3.8"/><circle cx="1315.0" cy="1215.4" r="3.8"/><circle cx="1232.9" cy="1216.6" r="3.8"/><circle cx="1235.8" cy="1216.6" r="3.8"/><circle cx="1238.1" cy="1217.7" r="3.8"/><circle cx="1241.3" cy="1218.0" r="3.8"/><circle cx="1244.3" cy="1217.8" r="3.8"/><circle cx="1245.9" cy="1218.5" r="3.8"/><circle cx="1249.4" cy="1216.6" r="3.8"/><circle cx="1253.2" cy="1217.0" r="3.8"/><circle cx="1256.1" cy="1216.7" r="3.8"/><circle cx="1286.6" cy="1216.3" r="3.8"/><circle cx="1289.8" cy="1218.4" r="3.8"/><circle cx="1291.6" cy="1216.6" r="3.8"/><circle cx="1314.1" cy="1218.4" r="3.8"/><circle cx="1314.8" cy="1216.8" r="3.8"/><circle cx="1237.0" cy="1220.1" r="3.8"/><circle cx="1240.5" cy="1220.8" r="3.8"/><circle cx="1242.5" cy="1219.9" r="3.8"/><circle cx="1244.4" cy="1219.2" r="3.8"/><circle cx="1247.9" cy="1220.7" r="3.8"/><circle cx="1251.2" cy="1221.1" r="3.8"/><circle cx="1254.6" cy="1221.1" r="3.8"/><circle cx="1256.5" cy="1219.0" r="3.8"/><circle cx="1260.7" cy="1219.6" r="3.8"/><circle cx="1264.5" cy="1220.8" r="3.8"/><circle cx="1287.2" cy="1220.7" r="3.8"/><circle cx="1291.4" cy="1220.4" r="3.8"/><circle cx="1293.6" cy="1220.3" r="3.8"/><circle cx="1314.0" cy="1219.1" r="3.8"/><circle cx="1235.0" cy="1222.5" r="3.8"/><circle cx="1238.3" cy="1222.7" r="3.8"/><circle cx="1241.2" cy="1221.9" r="3.8"/><circle cx="1244.9" cy="1222.5" r="3.8"/><circle cx="1246.4" cy="1221.9" r="3.8"/><circle cx="1248.7" cy="1222.5" r="3.8"/><circle cx="1252.2" cy="1222.2" r="3.8"/><circle cx="1254.8" cy="1223.2" r="3.8"/><circle cx="1259.7" cy="1222.9" r="3.8"/><circle cx="1261.3" cy="1221.9" r="3.8"/><circle cx="1263.7" cy="1222.8" r="3.8"/><circle cx="1286.6" cy="1221.9" r="3.8"/><circle cx="1288.8" cy="1222.8" r="3.8"/><circle cx="1291.5" cy="1222.9" r="3.8"/><circle cx="1294.8" cy="1223.0" r="3.8"/><circle cx="1300.8" cy="1223.3" r="3.8"/><circle cx="1312.1" cy="1223.7" r="3.8"/><circle cx="1314.9" cy="1223.5" r="3.8"/><circle cx="1235.5" cy="1226.3" r="3.8"/><circle cx="1239.5" cy="1224.4" r="3.8"/><circle cx="1245.4" cy="1225.5" r="3.8"/><circle cx="1247.6" cy="1225.5" r="3.8"/><circle cx="1251.2" cy="1225.1" r="3.8"/><circle cx="1253.7" cy="1224.1" r="3.8"/><circle cx="1257.9" cy="1224.8" r="3.8"/><circle cx="1259.3" cy="1224.5" r="3.8"/><circle cx="1264.2" cy="1225.1" r="3.8"/><circle cx="1286.2" cy="1226.3" r="3.8"/><circle cx="1289.9" cy="1224.2" r="3.8"/><circle cx="1293.6" cy="1225.1" r="3.8"/><circle cx="1296.7" cy="1224.0" r="3.8"/><circle cx="1300.1" cy="1225.1" r="3.8"/><circle cx="1311.3" cy="1224.5" r="3.8"/><circle cx="1314.5" cy="1225.8" r="3.8"/><circle cx="1237.7" cy="1226.7" r="3.8"/><circle cx="1249.5" cy="1228.3" r="3.8"/><circle cx="1252.7" cy="1228.4" r="3.8"/><circle cx="1254.8" cy="1228.1" r="3.8"/><circle cx="1259.8" cy="1227.1" r="3.8"/><circle cx="1260.7" cy="1226.9" r="3.8"/><circle cx="1286.3" cy="1228.7" r="3.8"/><circle cx="1288.6" cy="1227.6" r="3.8"/><circle cx="1292.5" cy="1228.0" r="3.8"/><circle cx="1293.8" cy="1227.8" r="3.8"/><circle cx="1296.7" cy="1227.2" r="3.8"/><circle cx="1302.1" cy="1227.7" r="3.8"/><circle cx="1303.9" cy="1228.4" r="3.8"/><circle cx="1306.8" cy="1227.6" r="3.8"/><circle cx="1310.1" cy="1227.3" r="3.8"/><circle cx="1312.3" cy="1227.6" r="3.8"/><circle cx="1315.9" cy="1227.9" r="3.8"/><circle cx="1249.0" cy="1230.8" r="3.8"/><circle cx="1252.4" cy="1230.1" r="3.8"/><circle cx="1254.9" cy="1230.9" r="3.8"/><circle cx="1256.2" cy="1229.3" r="3.8"/><circle cx="1261.5" cy="1230.6" r="3.8"/><circle cx="1264.1" cy="1229.5" r="3.8"/><circle cx="1287.7" cy="1230.5" r="3.8"/><circle cx="1289.4" cy="1229.4" r="3.8"/><circle cx="1294.5" cy="1231.3" r="3.8"/><circle cx="1295.9" cy="1229.2" r="3.8"/><circle cx="1299.6" cy="1230.5" r="3.8"/><circle cx="1301.5" cy="1229.6" r="3.8"/><circle cx="1304.5" cy="1231.0" r="3.8"/><circle cx="1307.3" cy="1231.2" r="3.8"/><circle cx="1311.8" cy="1229.7" r="3.8"/><circle cx="1313.8" cy="1231.4" r="3.8"/><circle cx="1316.2" cy="1229.2" r="3.8"/><circle cx="1249.2" cy="1232.3" r="3.8"/><circle cx="1253.1" cy="1232.3" r="3.8"/><circle cx="1256.7" cy="1233.4" r="3.8"/><circle cx="1258.3" cy="1233.2" r="3.8"/><circle cx="1261.1" cy="1232.2" r="3.8"/><circle cx="1285.3" cy="1232.4" r="3.8"/><circle cx="1289.5" cy="1232.7" r="3.8"/><circle cx="1291.3" cy="1233.2" r="3.8"/><circle cx="1295.1" cy="1233.3" r="3.8"/><circle cx="1297.3" cy="1233.7" r="3.8"/><circle cx="1300.8" cy="1233.1" r="3.8"/><circle cx="1304.5" cy="1233.7" r="3.8"/><circle cx="1306.3" cy="1233.9" r="3.8"/><circle cx="1310.3" cy="1233.0" r="3.8"/><circle cx="1313.9" cy="1233.0" r="3.8"/><circle cx="1316.7" cy="1233.0" r="3.8"/><circle cx="1248.6" cy="1236.6" r="3.8"/><circle cx="1251.6" cy="1236.5" r="3.8"/><circle cx="1254.6" cy="1236.1" r="3.8"/><circle cx="1258.0" cy="1235.1" r="3.8"/><circle cx="1260.4" cy="1236.4" r="3.8"/><circle cx="1263.0" cy="1235.7" r="3.8"/><circle cx="1267.3" cy="1236.0" r="3.8"/><circle cx="1269.8" cy="1235.5" r="3.8"/><circle cx="1287.5" cy="1235.5" r="3.8"/><circle cx="1290.2" cy="1236.7" r="3.8"/><circle cx="1293.8" cy="1235.4" r="3.8"/><circle cx="1296.1" cy="1234.6" r="3.8"/><circle cx="1300.1" cy="1235.1" r="3.8"/><circle cx="1302.3" cy="1236.5" r="3.8"/><circle cx="1306.3" cy="1236.6" r="3.8"/><circle cx="1307.4" cy="1234.4" r="3.8"/><circle cx="1311.5" cy="1236.6" r="3.8"/><circle cx="1313.4" cy="1235.1" r="3.8"/><circle cx="1249.4" cy="1237.3" r="3.8"/><circle cx="1251.8" cy="1237.4" r="3.8"/><circle cx="1256.3" cy="1237.7" r="3.8"/><circle cx="1258.3" cy="1237.6" r="3.8"/><circle cx="1262.7" cy="1238.3" r="3.8"/><circle cx="1263.7" cy="1237.8" r="3.8"/><circle cx="1268.1" cy="1238.0" r="3.8"/><circle cx="1271.2" cy="1238.4" r="3.8"/><circle cx="1279.0" cy="1239.3" r="3.8"/><circle cx="1282.8" cy="1237.1" r="3.8"/><circle cx="1285.8" cy="1238.0" r="3.8"/><circle cx="1288.4" cy="1238.0" r="3.8"/><circle cx="1291.1" cy="1237.5" r="3.8"/><circle cx="1294.7" cy="1239.1" r="3.8"/><circle cx="1297.5" cy="1237.5" r="3.8"/><circle cx="1299.8" cy="1237.6" r="3.8"/><circle cx="1303.1" cy="1237.1" r="3.8"/><circle cx="1306.8" cy="1238.8" r="3.8"/><circle cx="1309.8" cy="1238.0" r="3.8"/><circle cx="1312.9" cy="1238.0" r="3.8"/><circle cx="1316.1" cy="1237.0" r="3.8"/><circle cx="1254.4" cy="1239.6" r="3.8"/><circle cx="1257.9" cy="1240.7" r="3.8"/><circle cx="1259.6" cy="1240.0" r="3.8"/><circle cx="1262.5" cy="1241.2" r="3.8"/><circle cx="1265.7" cy="1241.6" r="3.8"/><circle cx="1269.7" cy="1241.4" r="3.8"/><circle cx="1272.9" cy="1240.9" r="3.8"/><circle cx="1275.0" cy="1241.6" r="3.8"/><circle cx="1278.2" cy="1240.0" r="3.8"/><circle cx="1282.2" cy="1239.8" r="3.8"/><circle cx="1285.2" cy="1241.7" r="3.8"/><circle cx="1288.4" cy="1239.8" r="3.8"/><circle cx="1291.0" cy="1240.6" r="3.8"/><circle cx="1292.8" cy="1240.4" r="3.8"/><circle cx="1295.4" cy="1239.6" r="3.8"/><circle cx="1299.0" cy="1241.9" r="3.8"/><circle cx="1301.9" cy="1241.3" r="3.8"/><circle cx="1306.1" cy="1240.7" r="3.8"/><circle cx="1308.5" cy="1240.7" r="3.8"/><circle cx="1312.3" cy="1240.0" r="3.8"/><circle cx="1314.3" cy="1241.6" r="3.8"/><circle cx="1317.0" cy="1240.8" r="3.8"/><circle cx="1256.1" cy="1242.5" r="3.8"/><circle cx="1257.8" cy="1244.4" r="3.8"/><circle cx="1261.6" cy="1243.3" r="3.8"/><circle cx="1264.7" cy="1244.3" r="3.8"/><circle cx="1267.5" cy="1243.9" r="3.8"/><circle cx="1270.3" cy="1242.9" r="3.8"/><circle cx="1272.7" cy="1242.7" r="3.8"/><circle cx="1276.5" cy="1243.5" r="3.8"/><circle cx="1280.6" cy="1242.8" r="3.8"/><circle cx="1282.2" cy="1242.5" r="3.8"/><circle cx="1286.8" cy="1242.8" r="3.8"/><circle cx="1289.5" cy="1242.6" r="3.8"/><circle cx="1292.4" cy="1243.1" r="3.8"/><circle cx="1294.7" cy="1242.2" r="3.8"/><circle cx="1296.8" cy="1242.6" r="3.8"/><circle cx="1301.0" cy="1242.6" r="3.8"/><circle cx="1305.9" cy="1242.4" r="3.8"/><circle cx="1315.4" cy="1243.4" r="3.8"/><circle cx="1260.3" cy="1247.1" r="3.8"/><circle cx="1262.4" cy="1246.1" r="3.8"/><circle cx="1267.3" cy="1246.5" r="3.8"/><circle cx="1269.7" cy="1245.7" r="3.8"/><circle cx="1273.5" cy="1245.5" r="3.8"/><circle cx="1275.5" cy="1246.7" r="3.8"/><circle cx="1277.7" cy="1246.3" r="3.8"/><circle cx="1281.0" cy="1246.1" r="3.8"/><circle cx="1284.7" cy="1245.1" r="3.8"/><circle cx="1286.4" cy="1246.4" r="3.8"/><circle cx="1289.9" cy="1246.0" r="3.8"/><circle cx="1292.2" cy="1246.6" r="3.8"/><circle cx="1259.2" cy="1247.5" r="3.8"/><circle cx="1263.1" cy="1248.3" r="3.8"/><circle cx="1265.0" cy="1247.8" r="3.8"/><circle cx="1267.8" cy="1248.7" r="3.8"/><circle cx="1270.6" cy="1248.1" r="3.8"/><circle cx="1273.4" cy="1247.6" r="3.8"/><circle cx="1278.0" cy="1247.5" r="3.8"/><circle cx="1279.3" cy="1248.1" r="3.8"/><circle cx="1282.3" cy="1247.9" r="3.8"/><circle cx="1285.9" cy="1249.0" r="3.8"/><circle cx="1287.7" cy="1247.5" r="3.8"/><circle cx="1292.3" cy="1247.7" r="3.8"/><circle cx="1281.3" cy="1250.1" r="3.8"/><circle cx="1221.5" cy="1183.6" r="3.8"/><circle cx="1223.2" cy="1186.6" r="3.8"/><circle cx="1235.7" cy="1183.9" r="3.8"/><circle cx="1238.7" cy="1181.7" r="3.8"/><circle cx="1241.4" cy="1187.7" r="3.8"/><circle cx="1249.0" cy="1182.4" r="3.8"/><circle cx="1249.0" cy="1185.1" r="3.8"/><circle cx="1292.1" cy="1180.9" r="3.8"/><circle cx="1210.1" cy="1192.9" r="3.8"/><circle cx="1295.3" cy="1192.7" r="3.8"/><circle cx="1289.2" cy="1198.0" r="3.8"/><circle cx="1228.7" cy="1197.6" r="3.8"/><circle cx="1233.0" cy="1201.8" r="3.8"/><circle cx="1311.3" cy="1199.1" r="3.8"/><circle cx="1319.2" cy="1190.0" r="3.8"/><circle cx="1222.8" cy="1204.8" r="3.8"/><circle cx="1224.3" cy="1211.9" r="3.8"/><circle cx="1215.4" cy="1213.4" r="3.8"/><circle cx="1217.1" cy="1218.7" r="3.8"/><circle cx="1220.1" cy="1221.8" r="3.8"/><circle cx="1226.2" cy="1222.2" r="3.8"/><circle cx="1203.0" cy="1230.5" r="3.8"/><circle cx="1200.0" cy="1227.8" r="3.8"/><circle cx="1205.3" cy="1231.6" r="3.8"/><circle cx="1209.9" cy="1233.9" r="3.8"/><circle cx="1217.5" cy="1232.6" r="3.8"/><circle cx="1222.8" cy="1233.5" r="3.8"/><circle cx="1242.3" cy="1244.9" r="3.8"/><circle cx="1247.1" cy="1248.0" r="3.8"/><circle cx="1315.4" cy="1202.0" r="3.8"/><circle cx="1316.2" cy="1204.3" r="3.8"/><circle cx="1309.9" cy="1148.4" r="3.8"/><circle cx="1292.3" cy="1152.0" r="3.8"/><circle cx="1295.9" cy="1161.5" r="3.8"/><circle cx="1259.5" cy="1173.1" r="3.8"/><circle cx="1232.0" cy="1175.0" r="3.8"/><circle cx="1289.6" cy="1175.9" r="3.8"/><circle cx="1313.7" cy="1216.6" r="3.8"/><circle cx="1316.9" cy="1216.2" r="3.8"/><circle cx="1345.3" cy="1215.8" r="3.8"/><circle cx="1313.7" cy="1218.6" r="3.8"/><circle cx="1316.8" cy="1218.9" r="3.8"/><circle cx="1343.8" cy="1218.4" r="3.8"/><circle cx="1345.2" cy="1219.3" r="3.8"/><circle cx="1315.2" cy="1220.7" r="3.8"/><circle cx="1316.7" cy="1221.3" r="3.8"/><circle cx="1330.0" cy="1221.0" r="3.8"/><circle cx="1347.4" cy="1222.5" r="3.8"/><circle cx="1349.4" cy="1223.0" r="3.8"/><circle cx="1354.0" cy="1220.9" r="3.8"/><circle cx="1315.6" cy="1224.7" r="3.8"/><circle cx="1319.6" cy="1225.5" r="3.8"/><circle cx="1327.0" cy="1224.6" r="3.8"/><circle cx="1330.2" cy="1223.2" r="3.8"/><circle cx="1351.7" cy="1223.8" r="3.8"/><circle cx="1353.9" cy="1224.8" r="3.8"/><circle cx="1315.1" cy="1227.2" r="3.8"/><circle cx="1316.9" cy="1227.3" r="3.8"/><circle cx="1319.5" cy="1227.8" r="3.8"/><circle cx="1322.5" cy="1226.4" r="3.8"/><circle cx="1326.0" cy="1227.9" r="3.8"/><circle cx="1330.2" cy="1227.3" r="3.8"/><circle cx="1332.2" cy="1226.2" r="3.8"/><circle cx="1353.1" cy="1227.9" r="3.8"/><circle cx="1315.6" cy="1230.7" r="3.8"/><circle cx="1320.1" cy="1228.6" r="3.8"/><circle cx="1321.1" cy="1228.9" r="3.8"/><circle cx="1325.4" cy="1230.5" r="3.8"/><circle cx="1327.7" cy="1230.2" r="3.8"/><circle cx="1331.4" cy="1229.6" r="3.8"/><circle cx="1334.5" cy="1229.6" r="3.8"/><circle cx="1337.1" cy="1229.4" r="3.8"/><circle cx="1313.8" cy="1233.0" r="3.8"/><circle cx="1318.3" cy="1232.3" r="3.8"/><circle cx="1321.5" cy="1233.2" r="3.8"/><circle cx="1322.5" cy="1231.9" r="3.8"/><circle cx="1325.8" cy="1232.1" r="3.8"/><circle cx="1328.7" cy="1232.5" r="3.8"/><circle cx="1332.0" cy="1233.0" r="3.8"/><circle cx="1336.1" cy="1232.3" r="3.8"/><circle cx="1337.8" cy="1231.5" r="3.8"/><circle cx="1316.1" cy="1235.3" r="3.8"/><circle cx="1319.0" cy="1234.6" r="3.8"/><circle cx="1322.7" cy="1234.0" r="3.8"/><circle cx="1325.0" cy="1234.4" r="3.8"/><circle cx="1327.0" cy="1235.2" r="3.8"/><circle cx="1331.9" cy="1235.7" r="3.8"/><circle cx="1334.2" cy="1235.9" r="3.8"/><circle cx="1337.9" cy="1234.8" r="3.8"/><circle cx="1316.8" cy="1236.4" r="3.8"/><circle cx="1320.2" cy="1237.3" r="3.8"/><circle cx="1363.5" cy="1177.8" r="3.8"/><circle cx="1320.5" cy="1189.5" r="3.8"/><circle cx="1320.6" cy="1194.4" r="3.8"/><circle cx="1311.5" cy="1199.0" r="3.8"/><circle cx="1316.1" cy="1203.5" r="3.8"/><circle cx="1322.2" cy="1204.7" r="3.8"/><circle cx="1363.5" cy="1202.8" r="3.8"/><circle cx="1390.5" cy="1202.4" r="3.8"/><circle cx="1394.3" cy="1202.8" r="3.8"/><circle cx="1411.0" cy="1203.8" r="3.8"/><circle cx="1424.7" cy="1204.7" r="3.8"/><circle cx="1336.6" cy="1209.2" r="3.8"/><circle cx="1342.7" cy="1208.1" r="3.8"/><circle cx="1351.0" cy="1210.4" r="3.8"/><circle cx="1357.8" cy="1209.6" r="3.8"/><circle cx="1360.1" cy="1214.2" r="3.8"/><circle cx="1366.2" cy="1213.0" r="3.8"/><circle cx="1371.9" cy="1211.5" r="3.8"/><circle cx="1331.3" cy="1214.6" r="3.8"/><circle cx="1389.0" cy="1220.3" r="3.8"/><circle cx="1386.7" cy="1222.5" r="3.8"/><circle cx="1367.7" cy="1225.6" r="3.8"/><circle cx="1363.2" cy="1229.4" r="3.8"/><circle cx="1360.9" cy="1233.5" r="3.8"/><circle cx="1366.2" cy="1230.9" r="3.8"/><circle cx="1371.9" cy="1230.9" r="3.8"/><circle cx="1378.7" cy="1229.7" r="3.8"/><circle cx="1389.4" cy="1236.6" r="3.8"/><circle cx="1352.2" cy="1243.8" r="3.8"/><circle cx="1345.3" cy="1240.0" r="3.8"/><circle cx="1346.5" cy="1234.7" r="3.8"/><circle cx="1348.0" cy="1230.1" r="3.8"/><circle cx="1332.0" cy="1241.9" r="3.8"/><circle cx="1314.9" cy="1243.8" r="3.8"/><circle cx="1337.7" cy="1235.8" r="3.8"/><circle cx="1028.2" cy="1237.0" r="3.8"/><circle cx="1028.5" cy="1241.6" r="3.8"/><circle cx="1105.4" cy="1239.8" r="3.8"/><circle cx="1112.2" cy="1212.0" r="3.8"/><circle cx="1126.2" cy="1246.7" r="3.8"/><circle cx="1143.7" cy="1203.3" r="3.8"/><circle cx="1155.8" cy="1202.8" r="3.8"/><circle cx="1158.9" cy="1194.2" r="3.8"/><circle cx="1162.7" cy="1182.3" r="3.8"/><circle cx="1152.5" cy="1157.9" r="3.8"/><circle cx="1159.9" cy="1249.3" r="3.8"/><circle cx="1181.7" cy="1224.9" r="3.8"/><circle cx="1188.6" cy="1214.7" r="3.8"/><circle cx="1192.0" cy="1243.7" r="3.8"/><circle cx="1193.4" cy="1199.0" r="3.8"/><circle cx="1198.8" cy="1182.8" r="3.8"/><circle cx="1199.1" cy="1228.4" r="3.8"/><circle cx="1325.0" cy="1166.3" r="3.8"/></g>
<g fill="#e03b2c"><circle cx="991.1" cy="1185.0" r="3.9"/></g>
<g fill="#2a62ae"><circle cx="1423.8" cy="927.3" r="3.9"/><circle cx="1401.8" cy="1146.6" r="3.9"/><circle cx="1415.4" cy="1178.5" r="3.9"/></g>
<line x1="1151.3" y1="912.6" x2="1151.3" y2="1266.1" stroke="#000" stroke-width="1.6" stroke-dasharray="2.7 2.1"/>
<line x1="1399.2" y1="912.6" x2="1399.2" y2="1266.1" stroke="#000" stroke-width="1.6" stroke-dasharray="2.7 2.1"/>
<line x1="940.5" y1="1199" x2="1486.3" y2="1199" stroke="#000" stroke-width="1.6" stroke-dasharray="2.7 2.1"/>
<path d="M940.5 912.6 V1266.1 H1485.3" fill="none" stroke="#000" stroke-width="2.5" stroke-linejoin="miter" stroke-linecap="round"/>
<line x1="1027.1" y1="1266.1" x2="1027.1" y2="1271.6" stroke="#000" stroke-width="2.4" stroke-linecap="round"/>
<text x="1022.3" y="1300.4" font-size="31" text-anchor="middle" textLength="28" lengthAdjust="spacingAndGlyphs" class="t">-4</text>
<line x1="1151.3" y1="1266.1" x2="1151.3" y2="1271.6" stroke="#000" stroke-width="2.4" stroke-linecap="round"/>
<text x="1149.4" y="1300.4" font-size="31" text-anchor="middle" textLength="28" lengthAdjust="spacingAndGlyphs" class="t">-2</text>
<line x1="1275.5" y1="1266.1" x2="1275.5" y2="1271.6" stroke="#000" stroke-width="2.4" stroke-linecap="round"/>
<text x="1277.4" y="1300.4" font-size="31" text-anchor="middle" class="t">0</text>
<line x1="1399.2" y1="1266.1" x2="1399.2" y2="1271.6" stroke="#000" stroke-width="2.4" stroke-linecap="round"/>
<text x="1400.5" y="1300.4" font-size="31" text-anchor="middle" class="t">2</text>
<line x1="934.8" y1="1250.3" x2="940.5" y2="1250.3" stroke="#000" stroke-width="2.4" stroke-linecap="round"/>
<text x="928.3" y="1263.8" font-size="31" text-anchor="end" class="t">0</text>
<line x1="934.8" y1="1148.2" x2="940.5" y2="1148.2" stroke="#000" stroke-width="2.4" stroke-linecap="round"/>
<text x="928.3" y="1160.4" font-size="31" text-anchor="end" class="t">2</text>
<line x1="934.8" y1="1045.8" x2="940.5" y2="1045.8" stroke="#000" stroke-width="2.4" stroke-linecap="round"/>
<text x="928.3" y="1056.8" font-size="31" text-anchor="end" class="t">4</text>
<line x1="934.8" y1="944.2" x2="940.5" y2="944.2" stroke="#000" stroke-width="2.4" stroke-linecap="round"/>
<text x="928.3" y="955" font-size="31" text-anchor="end" class="t">6</text>
<text x="1436.6" y="930.8" font-size="26.8" textLength="66" lengthAdjust="spacingAndGlyphs" class="t">Indole</text>
<text x="1412" y="1136.7" font-size="24.5" textLength="55" lengthAdjust="spacingAndGlyphs" class="t">3-IPA</text>
<text x="1427.6" y="1177" font-size="27" font-weight="bold" textLength="73.5" lengthAdjust="spacingAndGlyphs">3-IAA</text>
<text x="1000.5" y="1177.2" font-size="23" textLength="135.5" lengthAdjust="spacingAndGlyphs" class="t">p-Cresol-SO4</text>
<circle cx="1519.5" cy="972.9" r="8.8" fill="#e03b2c"/>
<text x="1536.8" y="983.9" font-size="31" textLength="45.7" lengthAdjust="spacingAndGlyphs" class="t">NR</text>
<circle cx="1520.3" cy="1014.7" r="8.8" fill="#2a62ae"/>
<text x="1536" y="1025.5" font-size="31" class="t">R</text>
<circle cx="1520.8" cy="1054.7" r="8.8" fill="#bdbdbd"/>
<text x="1535.9" y="1064" font-size="31" textLength="43.6" lengthAdjust="spacingAndGlyphs" class="t">NS</text>
<text class="t" x="1019.8" y="1343.4" font-size="29.7" textLength="385.5" lengthAdjust="spacingAndGlyphs">log<tspan font-size="18.4" dy="10.7">2</tspan><tspan dy="-10.7">-transformed fold change</tspan></text>
<text class="t" transform="translate(881.9,1084.7) rotate(-90)" font-size="31" text-anchor="middle" textLength="109.1" lengthAdjust="spacingAndGlyphs">-log<tspan font-size="19.2" dy="10.5">10</tspan><tspan dy="-10.5">(</tspan><tspan font-style="italic">P</tspan>)</text>
</svg></body></html>
